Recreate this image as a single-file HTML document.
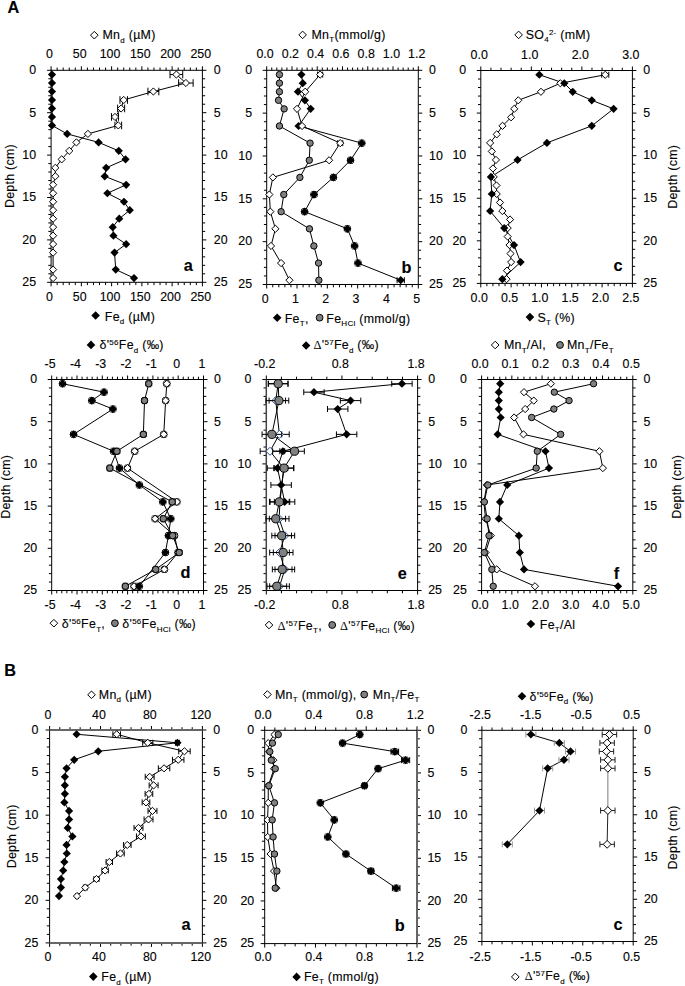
<!DOCTYPE html>
<html><head><meta charset="utf-8"><style>
html,body{margin:0;padding:0;background:#fff;}
svg{display:block;}
text{font-family:"Liberation Sans", sans-serif;fill:#000;stroke:#000;stroke-width:0.12px;}
</style></head><body>
<svg width="685" height="986" viewBox="0 0 685 986">
<rect width="685" height="986" fill="#fff"/>
<text x="7.6" y="12.6" font-size="16.3" font-weight="bold">A</text>
<text x="4.2" y="676.4" font-size="16.3" font-weight="bold">B</text>
<path d="M47.10 70.30H51.10M202.40 70.30H206.40M48.30 78.78H51.10M202.40 78.78H205.20M48.30 87.26H51.10M202.40 87.26H205.20M48.30 95.74H51.10M202.40 95.74H205.20M48.30 104.22H51.10M202.40 104.22H205.20M47.10 112.70H51.10M202.40 112.70H206.40M48.30 121.18H51.10M202.40 121.18H205.20M48.30 129.66H51.10M202.40 129.66H205.20M48.30 138.14H51.10M202.40 138.14H205.20M48.30 146.62H51.10M202.40 146.62H205.20M47.10 155.10H51.10M202.40 155.10H206.40M48.30 163.58H51.10M202.40 163.58H205.20M48.30 172.06H51.10M202.40 172.06H205.20M48.30 180.54H51.10M202.40 180.54H205.20M48.30 189.02H51.10M202.40 189.02H205.20M47.10 197.50H51.10M202.40 197.50H206.40M48.30 205.98H51.10M202.40 205.98H205.20M48.30 214.46H51.10M202.40 214.46H205.20M48.30 222.94H51.10M202.40 222.94H205.20M48.30 231.42H51.10M202.40 231.42H205.20M47.10 239.90H51.10M202.40 239.90H206.40M48.30 248.38H51.10M202.40 248.38H205.20M48.30 256.86H51.10M202.40 256.86H205.20M48.30 265.34H51.10M202.40 265.34H205.20M48.30 273.82H51.10M202.40 273.82H205.20M47.10 282.30H51.10M202.40 282.30H206.40M51.10 66.30V70.30M57.15 67.50V70.30M63.20 67.50V70.30M69.26 67.50V70.30M75.31 67.50V70.30M81.36 66.30V70.30M87.41 67.50V70.30M93.46 67.50V70.30M99.52 67.50V70.30M105.57 67.50V70.30M111.62 66.30V70.30M117.67 67.50V70.30M123.72 67.50V70.30M129.78 67.50V70.30M135.83 67.50V70.30M141.88 66.30V70.30M147.93 67.50V70.30M153.98 67.50V70.30M160.04 67.50V70.30M166.09 67.50V70.30M172.14 66.30V70.30M178.19 67.50V70.30M184.24 67.50V70.30M190.30 67.50V70.30M196.35 67.50V70.30M202.40 66.30V70.30M51.10 282.30V286.30M57.15 282.30V285.10M63.20 282.30V285.10M69.26 282.30V285.10M75.31 282.30V285.10M81.36 282.30V286.30M87.41 282.30V285.10M93.46 282.30V285.10M99.52 282.30V285.10M105.57 282.30V285.10M111.62 282.30V286.30M117.67 282.30V285.10M123.72 282.30V285.10M129.78 282.30V285.10M135.83 282.30V285.10M141.88 282.30V286.30M147.93 282.30V285.10M153.98 282.30V285.10M160.04 282.30V285.10M166.09 282.30V285.10M172.14 282.30V286.30M178.19 282.30V285.10M184.24 282.30V285.10M190.30 282.30V285.10M196.35 282.30V285.10M202.40 282.30V286.30" stroke="#000" stroke-width="1" fill="none"/>
<line x1="51.10" y1="69.80" x2="51.10" y2="282.80" stroke="#000" stroke-width="1.0"/>
<line x1="202.40" y1="69.80" x2="202.40" y2="282.80" stroke="#000" stroke-width="1.0"/>
<line x1="51.10" y1="70.30" x2="202.40" y2="70.30" stroke="#000" stroke-width="1.0"/>
<line x1="51.10" y1="282.30" x2="202.40" y2="282.30" stroke="#000" stroke-width="1.0"/>
<text x="49.50" y="58.40" text-anchor="middle" font-size="12.4" font-weight="normal">0</text>
<text x="79.76" y="58.40" text-anchor="middle" font-size="12.4" font-weight="normal">50</text>
<text x="110.02" y="58.40" text-anchor="middle" font-size="12.4" font-weight="normal">100</text>
<text x="140.28" y="58.40" text-anchor="middle" font-size="12.4" font-weight="normal">150</text>
<text x="170.54" y="58.40" text-anchor="middle" font-size="12.4" font-weight="normal">200</text>
<text x="200.80" y="58.40" text-anchor="middle" font-size="12.4" font-weight="normal">250</text>
<text x="49.50" y="301.30" text-anchor="middle" font-size="12.4" font-weight="normal">0</text>
<text x="79.76" y="301.30" text-anchor="middle" font-size="12.4" font-weight="normal">50</text>
<text x="110.02" y="301.30" text-anchor="middle" font-size="12.4" font-weight="normal">100</text>
<text x="140.28" y="301.30" text-anchor="middle" font-size="12.4" font-weight="normal">150</text>
<text x="170.54" y="301.30" text-anchor="middle" font-size="12.4" font-weight="normal">200</text>
<text x="200.80" y="301.30" text-anchor="middle" font-size="12.4" font-weight="normal">250</text>
<text x="36.10" y="74.10" text-anchor="end" font-size="12.4" font-weight="normal">0</text>
<text x="213.80" y="74.10" text-anchor="start" font-size="12.4" font-weight="normal">0</text>
<text x="36.10" y="116.50" text-anchor="end" font-size="12.4" font-weight="normal">5</text>
<text x="213.80" y="116.50" text-anchor="start" font-size="12.4" font-weight="normal">5</text>
<text x="36.10" y="158.90" text-anchor="end" font-size="12.4" font-weight="normal">10</text>
<text x="213.80" y="158.90" text-anchor="start" font-size="12.4" font-weight="normal">10</text>
<text x="36.10" y="201.30" text-anchor="end" font-size="12.4" font-weight="normal">15</text>
<text x="213.80" y="201.30" text-anchor="start" font-size="12.4" font-weight="normal">15</text>
<text x="36.10" y="243.70" text-anchor="end" font-size="12.4" font-weight="normal">20</text>
<text x="213.80" y="243.70" text-anchor="start" font-size="12.4" font-weight="normal">20</text>
<text x="36.10" y="286.10" text-anchor="end" font-size="12.4" font-weight="normal">25</text>
<text x="213.80" y="286.10" text-anchor="start" font-size="12.4" font-weight="normal">25</text>
<polyline fill="none" stroke="#000" stroke-width="1.0" points="176.38,74.54 185.88,83.02 153.38,91.50 123.72,99.98 121.12,108.46 115.01,116.94 118.28,125.42 87.90,133.90 76.40,142.38 69.26,150.86 61.69,159.34 55.34,167.82 55.34,176.30 53.10,184.78 53.10,193.26 53.10,201.74 53.10,210.22 53.10,218.70 53.10,227.18 53.10,235.66 53.10,244.14 53.10,252.62 53.10,269.58 53.10,278.06"/>
<polyline fill="none" stroke="#000" stroke-width="1.0" points="52.01,74.54 52.01,83.02 52.01,91.50 52.01,99.98 52.01,108.46 52.01,116.94 52.01,125.42 67.14,133.90 98.61,142.38 118.76,150.86 125.54,159.34 106.17,167.82 104.72,176.30 126.14,184.78 107.38,193.26 123.97,201.74 129.78,210.22 119.25,218.70 112.71,227.18 113.44,235.66 126.14,244.14 114.52,252.62 115.74,269.58 134.01,278.06"/>
<line x1="170.02" y1="74.54" x2="182.73" y2="74.54" stroke="#000" stroke-width="1.0"/>
<line x1="170.02" y1="70.74" x2="170.02" y2="78.34" stroke="#000" stroke-width="1.0"/>
<line x1="182.73" y1="70.74" x2="182.73" y2="78.34" stroke="#000" stroke-width="1.0"/>
<path d="M176.38 70.94L179.98 74.54L176.38 78.14L172.78 74.54Z" fill="#fff" stroke="#000" stroke-width="1"/>
<line x1="178.62" y1="83.02" x2="193.14" y2="83.02" stroke="#000" stroke-width="1.0"/>
<line x1="178.62" y1="79.22" x2="178.62" y2="86.82" stroke="#000" stroke-width="1.0"/>
<line x1="193.14" y1="79.22" x2="193.14" y2="86.82" stroke="#000" stroke-width="1.0"/>
<path d="M185.88 79.42L189.48 83.02L185.88 86.62L182.28 83.02Z" fill="#fff" stroke="#000" stroke-width="1"/>
<line x1="147.93" y1="91.50" x2="158.83" y2="91.50" stroke="#000" stroke-width="1.0"/>
<line x1="147.93" y1="87.70" x2="147.93" y2="95.30" stroke="#000" stroke-width="1.0"/>
<line x1="158.83" y1="87.70" x2="158.83" y2="95.30" stroke="#000" stroke-width="1.0"/>
<path d="M153.38 87.90L156.98 91.50L153.38 95.10L149.78 91.50Z" fill="#fff" stroke="#000" stroke-width="1"/>
<line x1="119.97" y1="99.98" x2="127.48" y2="99.98" stroke="#000" stroke-width="1.0"/>
<line x1="119.97" y1="96.18" x2="119.97" y2="103.78" stroke="#000" stroke-width="1.0"/>
<line x1="127.48" y1="96.18" x2="127.48" y2="103.78" stroke="#000" stroke-width="1.0"/>
<path d="M123.72 96.38L127.32 99.98L123.72 103.58L120.12 99.98Z" fill="#fff" stroke="#000" stroke-width="1"/>
<line x1="117.61" y1="108.46" x2="124.63" y2="108.46" stroke="#000" stroke-width="1.0"/>
<line x1="117.61" y1="104.66" x2="117.61" y2="112.26" stroke="#000" stroke-width="1.0"/>
<line x1="124.63" y1="104.66" x2="124.63" y2="112.26" stroke="#000" stroke-width="1.0"/>
<path d="M121.12 104.86L124.72 108.46L121.12 112.06L117.52 108.46Z" fill="#fff" stroke="#000" stroke-width="1"/>
<line x1="111.50" y1="116.94" x2="118.52" y2="116.94" stroke="#000" stroke-width="1.0"/>
<line x1="111.50" y1="113.14" x2="111.50" y2="120.74" stroke="#000" stroke-width="1.0"/>
<line x1="118.52" y1="113.14" x2="118.52" y2="120.74" stroke="#000" stroke-width="1.0"/>
<path d="M115.01 113.34L118.61 116.94L115.01 120.54L111.41 116.94Z" fill="#fff" stroke="#000" stroke-width="1"/>
<line x1="114.95" y1="125.42" x2="121.61" y2="125.42" stroke="#000" stroke-width="1.0"/>
<line x1="114.95" y1="121.62" x2="114.95" y2="129.22" stroke="#000" stroke-width="1.0"/>
<line x1="121.61" y1="121.62" x2="121.61" y2="129.22" stroke="#000" stroke-width="1.0"/>
<path d="M118.28 121.82L121.88 125.42L118.28 129.02L114.68 125.42Z" fill="#fff" stroke="#000" stroke-width="1"/>
<path d="M87.90 130.30L91.50 133.90L87.90 137.50L84.30 133.90Z" fill="#fff" stroke="#000" stroke-width="1"/>
<path d="M76.40 138.78L80.00 142.38L76.40 145.98L72.80 142.38Z" fill="#fff" stroke="#000" stroke-width="1"/>
<path d="M69.26 147.26L72.86 150.86L69.26 154.46L65.66 150.86Z" fill="#fff" stroke="#000" stroke-width="1"/>
<path d="M61.69 155.74L65.29 159.34L61.69 162.94L58.09 159.34Z" fill="#fff" stroke="#000" stroke-width="1"/>
<path d="M55.34 164.22L58.94 167.82L55.34 171.42L51.74 167.82Z" fill="#fff" stroke="#000" stroke-width="1"/>
<path d="M55.34 172.70L58.94 176.30L55.34 179.90L51.74 176.30Z" fill="#fff" stroke="#000" stroke-width="1"/>
<path d="M53.10 181.18L56.70 184.78L53.10 188.38L49.50 184.78Z" fill="#fff" stroke="#000" stroke-width="1"/>
<path d="M53.10 189.66L56.70 193.26L53.10 196.86L49.50 193.26Z" fill="#fff" stroke="#000" stroke-width="1"/>
<path d="M53.10 198.14L56.70 201.74L53.10 205.34L49.50 201.74Z" fill="#fff" stroke="#000" stroke-width="1"/>
<path d="M53.10 206.62L56.70 210.22L53.10 213.82L49.50 210.22Z" fill="#fff" stroke="#000" stroke-width="1"/>
<path d="M53.10 215.10L56.70 218.70L53.10 222.30L49.50 218.70Z" fill="#fff" stroke="#000" stroke-width="1"/>
<path d="M53.10 223.58L56.70 227.18L53.10 230.78L49.50 227.18Z" fill="#fff" stroke="#000" stroke-width="1"/>
<path d="M53.10 232.06L56.70 235.66L53.10 239.26L49.50 235.66Z" fill="#fff" stroke="#000" stroke-width="1"/>
<path d="M53.10 240.54L56.70 244.14L53.10 247.74L49.50 244.14Z" fill="#fff" stroke="#000" stroke-width="1"/>
<path d="M53.10 249.02L56.70 252.62L53.10 256.22L49.50 252.62Z" fill="#fff" stroke="#000" stroke-width="1"/>
<path d="M53.10 265.98L56.70 269.58L53.10 273.18L49.50 269.58Z" fill="#fff" stroke="#000" stroke-width="1"/>
<path d="M53.10 274.46L56.70 278.06L53.10 281.66L49.50 278.06Z" fill="#fff" stroke="#000" stroke-width="1"/>
<path d="M52.01 70.44L56.11 74.54L52.01 78.64L47.91 74.54Z" fill="#000"/>
<path d="M52.01 78.92L56.11 83.02L52.01 87.12L47.91 83.02Z" fill="#000"/>
<path d="M52.01 87.40L56.11 91.50L52.01 95.60L47.91 91.50Z" fill="#000"/>
<path d="M52.01 95.88L56.11 99.98L52.01 104.08L47.91 99.98Z" fill="#000"/>
<path d="M52.01 104.36L56.11 108.46L52.01 112.56L47.91 108.46Z" fill="#000"/>
<path d="M52.01 112.84L56.11 116.94L52.01 121.04L47.91 116.94Z" fill="#000"/>
<path d="M52.01 121.32L56.11 125.42L52.01 129.52L47.91 125.42Z" fill="#000"/>
<path d="M67.14 129.80L71.24 133.90L67.14 138.00L63.04 133.90Z" fill="#000"/>
<path d="M98.61 138.28L102.71 142.38L98.61 146.48L94.51 142.38Z" fill="#000"/>
<path d="M118.76 146.76L122.86 150.86L118.76 154.96L114.66 150.86Z" fill="#000"/>
<path d="M125.54 155.24L129.64 159.34L125.54 163.44L121.44 159.34Z" fill="#000"/>
<path d="M106.17 163.72L110.27 167.82L106.17 171.92L102.07 167.82Z" fill="#000"/>
<path d="M104.72 172.20L108.82 176.30L104.72 180.40L100.62 176.30Z" fill="#000"/>
<path d="M126.14 180.68L130.24 184.78L126.14 188.88L122.04 184.78Z" fill="#000"/>
<path d="M107.38 189.16L111.48 193.26L107.38 197.36L103.28 193.26Z" fill="#000"/>
<path d="M123.97 197.64L128.07 201.74L123.97 205.84L119.87 201.74Z" fill="#000"/>
<path d="M129.78 206.12L133.88 210.22L129.78 214.32L125.68 210.22Z" fill="#000"/>
<path d="M119.25 214.60L123.35 218.70L119.25 222.80L115.15 218.70Z" fill="#000"/>
<path d="M112.71 223.08L116.81 227.18L112.71 231.28L108.61 227.18Z" fill="#000"/>
<path d="M113.44 231.56L117.54 235.66L113.44 239.76L109.34 235.66Z" fill="#000"/>
<path d="M126.14 240.04L130.24 244.14L126.14 248.24L122.04 244.14Z" fill="#000"/>
<path d="M114.52 248.52L118.62 252.62L114.52 256.72L110.42 252.62Z" fill="#000"/>
<path d="M115.74 265.48L119.84 269.58L115.74 273.68L111.64 269.58Z" fill="#000"/>
<path d="M134.01 273.96L138.11 278.06L134.01 282.16L129.91 278.06Z" fill="#000"/>
<path d="M94.30 31.40L98.10 35.20L94.30 39.00L90.50 35.20Z" fill="#fff" stroke="#000" stroke-width="1"/>
<text x="102.50" y="39.40" text-anchor="start" font-size="12.4" letter-spacing="0.28" xml:space="preserve"><tspan font-size="12.4">Mn</tspan><tspan font-size="8.0" dy="3.30">d</tspan><tspan font-size="12.4" dy="-3.30"> (µM)</tspan></text>
<path d="M95.60 311.20L99.90 315.50L95.60 319.80L91.30 315.50Z" fill="#000"/>
<text x="104.80" y="320.50" text-anchor="start" font-size="12.4" letter-spacing="0.28" xml:space="preserve"><tspan font-size="12.4">Fe</tspan><tspan font-size="8.0" dy="3.30">d</tspan><tspan font-size="12.4" dy="-3.30"> (µM)</tspan></text>
<text transform="translate(13.70,176.05) rotate(-90)" text-anchor="middle" font-size="12.4" letter-spacing="0.28">Depth (cm)</text>
<text x="192.75" y="271.20" text-anchor="end" font-size="16.3" font-weight="bold">a</text>
<path d="M262.70 70.30H266.70M418.30 70.30H422.30M263.90 78.87H266.70M418.30 78.87H421.10M263.90 87.44H266.70M418.30 87.44H421.10M263.90 96.00H266.70M418.30 96.00H421.10M263.90 104.57H266.70M418.30 104.57H421.10M262.70 113.14H266.70M418.30 113.14H422.30M263.90 121.71H266.70M418.30 121.71H421.10M263.90 130.28H266.70M418.30 130.28H421.10M263.90 138.84H266.70M418.30 138.84H421.10M263.90 147.41H266.70M418.30 147.41H421.10M262.70 155.98H266.70M418.30 155.98H422.30M263.90 164.55H266.70M418.30 164.55H421.10M263.90 173.12H266.70M418.30 173.12H421.10M263.90 181.68H266.70M418.30 181.68H421.10M263.90 190.25H266.70M418.30 190.25H421.10M262.70 198.82H266.70M418.30 198.82H422.30M263.90 207.39H266.70M418.30 207.39H421.10M263.90 215.96H266.70M418.30 215.96H421.10M263.90 224.52H266.70M418.30 224.52H421.10M263.90 233.09H266.70M418.30 233.09H421.10M262.70 241.66H266.70M418.30 241.66H422.30M263.90 250.23H266.70M418.30 250.23H421.10M263.90 258.80H266.70M418.30 258.80H421.10M263.90 267.36H266.70M418.30 267.36H421.10M263.90 275.93H266.70M418.30 275.93H421.10M262.70 284.50H266.70M418.30 284.50H422.30M266.70 66.30V70.30M271.75 67.50V70.30M276.81 67.50V70.30M281.86 67.50V70.30M286.91 67.50V70.30M291.97 66.30V70.30M297.02 67.50V70.30M302.07 67.50V70.30M307.13 67.50V70.30M312.18 67.50V70.30M317.23 66.30V70.30M322.29 67.50V70.30M327.34 67.50V70.30M332.39 67.50V70.30M337.45 67.50V70.30M342.50 66.30V70.30M347.55 67.50V70.30M352.61 67.50V70.30M357.66 67.50V70.30M362.71 67.50V70.30M367.77 66.30V70.30M372.82 67.50V70.30M377.87 67.50V70.30M382.93 67.50V70.30M387.98 67.50V70.30M393.03 66.30V70.30M398.09 67.50V70.30M403.14 67.50V70.30M408.19 67.50V70.30M413.25 67.50V70.30M418.30 66.30V70.30M266.70 284.50V288.50M272.76 284.50V287.30M278.83 284.50V287.30M284.89 284.50V287.30M290.96 284.50V287.30M297.02 284.50V288.50M303.08 284.50V287.30M309.15 284.50V287.30M315.21 284.50V287.30M321.28 284.50V287.30M327.34 284.50V288.50M333.40 284.50V287.30M339.47 284.50V287.30M345.53 284.50V287.30M351.60 284.50V287.30M357.66 284.50V288.50M363.72 284.50V287.30M369.79 284.50V287.30M375.85 284.50V287.30M381.92 284.50V287.30M387.98 284.50V288.50M394.04 284.50V287.30M400.11 284.50V287.30M406.17 284.50V287.30M412.24 284.50V287.30M418.30 284.50V288.50" stroke="#000" stroke-width="1" fill="none"/>
<line x1="266.70" y1="69.80" x2="266.70" y2="285.00" stroke="#000" stroke-width="1.0"/>
<line x1="418.30" y1="69.80" x2="418.30" y2="285.00" stroke="#000" stroke-width="1.0"/>
<line x1="266.70" y1="70.30" x2="418.30" y2="70.30" stroke="#000" stroke-width="1.0"/>
<line x1="266.70" y1="284.50" x2="418.30" y2="284.50" stroke="#000" stroke-width="1.0"/>
<text x="265.10" y="58.40" text-anchor="middle" font-size="12.4" font-weight="normal">0.0</text>
<text x="290.37" y="58.40" text-anchor="middle" font-size="12.4" font-weight="normal">0.2</text>
<text x="315.63" y="58.40" text-anchor="middle" font-size="12.4" font-weight="normal">0.4</text>
<text x="340.90" y="58.40" text-anchor="middle" font-size="12.4" font-weight="normal">0.6</text>
<text x="366.17" y="58.40" text-anchor="middle" font-size="12.4" font-weight="normal">0.8</text>
<text x="391.43" y="58.40" text-anchor="middle" font-size="12.4" font-weight="normal">1.0</text>
<text x="416.70" y="58.40" text-anchor="middle" font-size="12.4" font-weight="normal">1.2</text>
<text x="265.10" y="303.30" text-anchor="middle" font-size="12.4" font-weight="normal">0</text>
<text x="295.42" y="303.30" text-anchor="middle" font-size="12.4" font-weight="normal">1</text>
<text x="325.74" y="303.30" text-anchor="middle" font-size="12.4" font-weight="normal">2</text>
<text x="356.06" y="303.30" text-anchor="middle" font-size="12.4" font-weight="normal">3</text>
<text x="386.38" y="303.30" text-anchor="middle" font-size="12.4" font-weight="normal">4</text>
<text x="416.70" y="303.30" text-anchor="middle" font-size="12.4" font-weight="normal">5</text>
<text x="252.10" y="74.10" text-anchor="end" font-size="12.4" font-weight="normal">0</text>
<text x="429.10" y="74.10" text-anchor="start" font-size="12.4" font-weight="normal">0</text>
<text x="252.10" y="116.94" text-anchor="end" font-size="12.4" font-weight="normal">5</text>
<text x="429.10" y="116.94" text-anchor="start" font-size="12.4" font-weight="normal">5</text>
<text x="252.10" y="159.78" text-anchor="end" font-size="12.4" font-weight="normal">10</text>
<text x="429.10" y="159.78" text-anchor="start" font-size="12.4" font-weight="normal">10</text>
<text x="252.10" y="202.62" text-anchor="end" font-size="12.4" font-weight="normal">15</text>
<text x="429.10" y="202.62" text-anchor="start" font-size="12.4" font-weight="normal">15</text>
<text x="252.10" y="245.46" text-anchor="end" font-size="12.4" font-weight="normal">20</text>
<text x="429.10" y="245.46" text-anchor="start" font-size="12.4" font-weight="normal">20</text>
<text x="252.10" y="288.30" text-anchor="end" font-size="12.4" font-weight="normal">25</text>
<text x="429.10" y="288.30" text-anchor="start" font-size="12.4" font-weight="normal">25</text>
<polyline fill="none" stroke="#000" stroke-width="1.0" points="279.43,74.58 279.43,83.15 279.43,91.72 278.52,100.29 284.13,108.86 279.43,125.99 310.06,143.13 309.30,160.26 299.90,177.40 283.77,194.54 281.10,211.67 309.45,228.81 313.88,245.94 318.55,263.08 318.85,280.22"/>
<polyline fill="none" stroke="#000" stroke-width="1.0" points="301.39,74.58 302.78,83.15 297.93,91.72 304.90,100.29 310.66,108.86 298.54,125.99 361.75,143.13 350.53,160.26 333.40,177.40 314.00,194.54 304.60,211.67 347.35,228.81 354.63,245.94 357.96,263.08 400.71,280.22"/>
<polyline fill="none" stroke="#000" stroke-width="1.0" points="320.14,74.58 305.23,91.72 297.02,108.86 302.07,125.99 340.23,143.13 329.11,160.26 272.89,177.40 269.35,194.54 270.36,211.67 275.42,228.81 271.00,245.94 281.10,263.08 289.44,280.22"/>
<circle cx="279.43" cy="74.58" r="3.20" fill="#808080" stroke="#000" stroke-width="1"/>
<circle cx="279.43" cy="83.15" r="3.20" fill="#808080" stroke="#000" stroke-width="1"/>
<circle cx="279.43" cy="91.72" r="3.20" fill="#808080" stroke="#000" stroke-width="1"/>
<circle cx="278.52" cy="100.29" r="3.20" fill="#808080" stroke="#000" stroke-width="1"/>
<circle cx="284.13" cy="108.86" r="3.20" fill="#808080" stroke="#000" stroke-width="1"/>
<circle cx="279.43" cy="125.99" r="3.20" fill="#808080" stroke="#000" stroke-width="1"/>
<circle cx="310.06" cy="143.13" r="3.20" fill="#808080" stroke="#000" stroke-width="1"/>
<circle cx="309.30" cy="160.26" r="3.20" fill="#808080" stroke="#000" stroke-width="1"/>
<circle cx="299.90" cy="177.40" r="3.20" fill="#808080" stroke="#000" stroke-width="1"/>
<circle cx="283.77" cy="194.54" r="3.20" fill="#808080" stroke="#000" stroke-width="1"/>
<circle cx="281.10" cy="211.67" r="3.20" fill="#808080" stroke="#000" stroke-width="1"/>
<circle cx="309.45" cy="228.81" r="3.20" fill="#808080" stroke="#000" stroke-width="1"/>
<circle cx="313.88" cy="245.94" r="3.20" fill="#808080" stroke="#000" stroke-width="1"/>
<circle cx="318.55" cy="263.08" r="3.20" fill="#808080" stroke="#000" stroke-width="1"/>
<circle cx="318.85" cy="280.22" r="3.20" fill="#808080" stroke="#000" stroke-width="1"/>
<path d="M301.39 70.48L305.49 74.58L301.39 78.68L297.29 74.58Z" fill="#000"/>
<path d="M302.78 79.05L306.88 83.15L302.78 87.25L298.68 83.15Z" fill="#000"/>
<path d="M297.93 87.62L302.03 91.72L297.93 95.82L293.83 91.72Z" fill="#000"/>
<path d="M304.90 96.19L309.00 100.29L304.90 104.39L300.80 100.29Z" fill="#000"/>
<path d="M310.66 104.76L314.76 108.86L310.66 112.96L306.56 108.86Z" fill="#000"/>
<path d="M298.54 121.89L302.64 125.99L298.54 130.09L294.44 125.99Z" fill="#000"/>
<line x1="358.75" y1="143.13" x2="364.75" y2="143.13" stroke="#000" stroke-width="0.9"/>
<line x1="358.75" y1="140.63" x2="358.75" y2="145.63" stroke="#000" stroke-width="0.9"/>
<line x1="364.75" y1="140.63" x2="364.75" y2="145.63" stroke="#000" stroke-width="0.9"/>
<line x1="361.75" y1="140.13" x2="361.75" y2="146.13" stroke="#000" stroke-width="0.9"/>
<line x1="359.25" y1="140.13" x2="364.25" y2="140.13" stroke="#000" stroke-width="0.9"/>
<line x1="359.25" y1="146.13" x2="364.25" y2="146.13" stroke="#000" stroke-width="0.9"/>
<path d="M361.75 139.03L365.85 143.13L361.75 147.23L357.65 143.13Z" fill="#000"/>
<line x1="347.53" y1="160.26" x2="353.53" y2="160.26" stroke="#000" stroke-width="0.9"/>
<line x1="347.53" y1="157.76" x2="347.53" y2="162.76" stroke="#000" stroke-width="0.9"/>
<line x1="353.53" y1="157.76" x2="353.53" y2="162.76" stroke="#000" stroke-width="0.9"/>
<line x1="350.53" y1="157.26" x2="350.53" y2="163.26" stroke="#000" stroke-width="0.9"/>
<line x1="348.03" y1="157.26" x2="353.03" y2="157.26" stroke="#000" stroke-width="0.9"/>
<line x1="348.03" y1="163.26" x2="353.03" y2="163.26" stroke="#000" stroke-width="0.9"/>
<path d="M350.53 156.16L354.63 160.26L350.53 164.36L346.43 160.26Z" fill="#000"/>
<line x1="330.40" y1="177.40" x2="336.40" y2="177.40" stroke="#000" stroke-width="0.9"/>
<line x1="330.40" y1="174.90" x2="330.40" y2="179.90" stroke="#000" stroke-width="0.9"/>
<line x1="336.40" y1="174.90" x2="336.40" y2="179.90" stroke="#000" stroke-width="0.9"/>
<line x1="333.40" y1="174.40" x2="333.40" y2="180.40" stroke="#000" stroke-width="0.9"/>
<line x1="330.90" y1="174.40" x2="335.90" y2="174.40" stroke="#000" stroke-width="0.9"/>
<line x1="330.90" y1="180.40" x2="335.90" y2="180.40" stroke="#000" stroke-width="0.9"/>
<path d="M333.40 173.30L337.50 177.40L333.40 181.50L329.30 177.40Z" fill="#000"/>
<line x1="311.00" y1="194.54" x2="317.00" y2="194.54" stroke="#000" stroke-width="0.9"/>
<line x1="311.00" y1="192.04" x2="311.00" y2="197.04" stroke="#000" stroke-width="0.9"/>
<line x1="317.00" y1="192.04" x2="317.00" y2="197.04" stroke="#000" stroke-width="0.9"/>
<line x1="314.00" y1="191.54" x2="314.00" y2="197.54" stroke="#000" stroke-width="0.9"/>
<line x1="311.50" y1="191.54" x2="316.50" y2="191.54" stroke="#000" stroke-width="0.9"/>
<line x1="311.50" y1="197.54" x2="316.50" y2="197.54" stroke="#000" stroke-width="0.9"/>
<path d="M314.00 190.44L318.10 194.54L314.00 198.64L309.90 194.54Z" fill="#000"/>
<line x1="301.60" y1="211.67" x2="307.60" y2="211.67" stroke="#000" stroke-width="0.9"/>
<line x1="301.60" y1="209.17" x2="301.60" y2="214.17" stroke="#000" stroke-width="0.9"/>
<line x1="307.60" y1="209.17" x2="307.60" y2="214.17" stroke="#000" stroke-width="0.9"/>
<line x1="304.60" y1="208.67" x2="304.60" y2="214.67" stroke="#000" stroke-width="0.9"/>
<line x1="302.10" y1="208.67" x2="307.10" y2="208.67" stroke="#000" stroke-width="0.9"/>
<line x1="302.10" y1="214.67" x2="307.10" y2="214.67" stroke="#000" stroke-width="0.9"/>
<path d="M304.60 207.57L308.70 211.67L304.60 215.77L300.50 211.67Z" fill="#000"/>
<line x1="344.35" y1="228.81" x2="350.35" y2="228.81" stroke="#000" stroke-width="0.9"/>
<line x1="344.35" y1="226.31" x2="344.35" y2="231.31" stroke="#000" stroke-width="0.9"/>
<line x1="350.35" y1="226.31" x2="350.35" y2="231.31" stroke="#000" stroke-width="0.9"/>
<line x1="347.35" y1="225.81" x2="347.35" y2="231.81" stroke="#000" stroke-width="0.9"/>
<line x1="344.85" y1="225.81" x2="349.85" y2="225.81" stroke="#000" stroke-width="0.9"/>
<line x1="344.85" y1="231.81" x2="349.85" y2="231.81" stroke="#000" stroke-width="0.9"/>
<path d="M347.35 224.71L351.45 228.81L347.35 232.91L343.25 228.81Z" fill="#000"/>
<line x1="351.63" y1="245.94" x2="357.63" y2="245.94" stroke="#000" stroke-width="0.9"/>
<line x1="351.63" y1="243.44" x2="351.63" y2="248.44" stroke="#000" stroke-width="0.9"/>
<line x1="357.63" y1="243.44" x2="357.63" y2="248.44" stroke="#000" stroke-width="0.9"/>
<line x1="354.63" y1="242.94" x2="354.63" y2="248.94" stroke="#000" stroke-width="0.9"/>
<line x1="352.13" y1="242.94" x2="357.13" y2="242.94" stroke="#000" stroke-width="0.9"/>
<line x1="352.13" y1="248.94" x2="357.13" y2="248.94" stroke="#000" stroke-width="0.9"/>
<path d="M354.63 241.84L358.73 245.94L354.63 250.04L350.53 245.94Z" fill="#000"/>
<line x1="354.96" y1="263.08" x2="360.96" y2="263.08" stroke="#000" stroke-width="0.9"/>
<line x1="354.96" y1="260.58" x2="354.96" y2="265.58" stroke="#000" stroke-width="0.9"/>
<line x1="360.96" y1="260.58" x2="360.96" y2="265.58" stroke="#000" stroke-width="0.9"/>
<line x1="357.96" y1="260.08" x2="357.96" y2="266.08" stroke="#000" stroke-width="0.9"/>
<line x1="355.46" y1="260.08" x2="360.46" y2="260.08" stroke="#000" stroke-width="0.9"/>
<line x1="355.46" y1="266.08" x2="360.46" y2="266.08" stroke="#000" stroke-width="0.9"/>
<path d="M357.96 258.98L362.06 263.08L357.96 267.18L353.86 263.08Z" fill="#000"/>
<line x1="397.08" y1="280.22" x2="404.35" y2="280.22" stroke="#000" stroke-width="1.0"/>
<line x1="397.08" y1="277.22" x2="397.08" y2="283.22" stroke="#000" stroke-width="1.0"/>
<line x1="404.35" y1="277.22" x2="404.35" y2="283.22" stroke="#000" stroke-width="1.0"/>
<path d="M400.71 276.12L404.81 280.22L400.71 284.32L396.61 280.22Z" fill="#000"/>
<line x1="317.61" y1="74.58" x2="322.67" y2="74.58" stroke="#000" stroke-width="1.0"/>
<line x1="317.61" y1="71.58" x2="317.61" y2="77.58" stroke="#000" stroke-width="1.0"/>
<line x1="322.67" y1="71.58" x2="322.67" y2="77.58" stroke="#000" stroke-width="1.0"/>
<path d="M320.14 70.98L323.74 74.58L320.14 78.18L316.54 74.58Z" fill="#fff" stroke="#000" stroke-width="1"/>
<path d="M305.23 88.12L308.83 91.72L305.23 95.32L301.63 91.72Z" fill="#fff" stroke="#000" stroke-width="1"/>
<path d="M297.02 105.26L300.62 108.86L297.02 112.46L293.42 108.86Z" fill="#fff" stroke="#000" stroke-width="1"/>
<path d="M302.07 122.39L305.67 125.99L302.07 129.59L298.47 125.99Z" fill="#fff" stroke="#000" stroke-width="1"/>
<line x1="337.70" y1="143.13" x2="342.75" y2="143.13" stroke="#000" stroke-width="1.0"/>
<line x1="337.70" y1="140.13" x2="337.70" y2="146.13" stroke="#000" stroke-width="1.0"/>
<line x1="342.75" y1="140.13" x2="342.75" y2="146.13" stroke="#000" stroke-width="1.0"/>
<path d="M340.23 139.53L343.83 143.13L340.23 146.73L336.63 143.13Z" fill="#fff" stroke="#000" stroke-width="1"/>
<path d="M329.11 156.66L332.71 160.26L329.11 163.86L325.51 160.26Z" fill="#fff" stroke="#000" stroke-width="1"/>
<path d="M272.89 173.80L276.49 177.40L272.89 181.00L269.29 177.40Z" fill="#fff" stroke="#000" stroke-width="1"/>
<path d="M269.35 190.94L272.95 194.54L269.35 198.14L265.75 194.54Z" fill="#fff" stroke="#000" stroke-width="1"/>
<path d="M270.36 208.07L273.96 211.67L270.36 215.27L266.76 211.67Z" fill="#fff" stroke="#000" stroke-width="1"/>
<path d="M275.42 225.21L279.02 228.81L275.42 232.41L271.82 228.81Z" fill="#fff" stroke="#000" stroke-width="1"/>
<path d="M271.00 242.34L274.60 245.94L271.00 249.54L267.40 245.94Z" fill="#fff" stroke="#000" stroke-width="1"/>
<path d="M281.10 259.48L284.70 263.08L281.10 266.68L277.50 263.08Z" fill="#fff" stroke="#000" stroke-width="1"/>
<path d="M289.44 276.62L293.04 280.22L289.44 283.82L285.84 280.22Z" fill="#fff" stroke="#000" stroke-width="1"/>
<path d="M302.60 31.10L306.40 34.90L302.60 38.70L298.80 34.90Z" fill="#fff" stroke="#000" stroke-width="1"/>
<text x="311.50" y="39.00" text-anchor="start" font-size="12.4" letter-spacing="0.28" xml:space="preserve"><tspan font-size="12.4">Mn</tspan><tspan font-size="8.0" dy="3.30">T</tspan><tspan font-size="12.4" dy="-3.30">(mmol/g)</tspan></text>
<path d="M277.20 313.40L281.50 317.70L277.20 322.00L272.90 317.70Z" fill="#000"/>
<text x="284.70" y="322.80" text-anchor="start" font-size="12.4" letter-spacing="0.28" xml:space="preserve"><tspan font-size="12.4">Fe</tspan><tspan font-size="8.0" dy="3.30">T</tspan><tspan font-size="12.4" dy="-3.30">,  </tspan></text>
<circle cx="319.60" cy="317.70" r="3.40" fill="#808080" stroke="#000" stroke-width="1"/>
<text x="326.30" y="322.80" text-anchor="start" font-size="12.4" letter-spacing="0.28" xml:space="preserve"><tspan font-size="12.4">Fe</tspan><tspan font-size="8.0" dy="3.30">HCl</tspan><tspan font-size="12.4" dy="-3.30"> (mmol/g)</tspan></text>
<text x="411.35" y="272.70" text-anchor="end" font-size="16.3" font-weight="bold">b</text>
<path d="M476.80 70.50H480.80M632.40 70.50H636.40M478.00 79.02H480.80M632.40 79.02H635.20M478.00 87.53H480.80M632.40 87.53H635.20M478.00 96.05H480.80M632.40 96.05H635.20M478.00 104.56H480.80M632.40 104.56H635.20M476.80 113.08H480.80M632.40 113.08H636.40M478.00 121.60H480.80M632.40 121.60H635.20M478.00 130.11H480.80M632.40 130.11H635.20M478.00 138.63H480.80M632.40 138.63H635.20M478.00 147.14H480.80M632.40 147.14H635.20M476.80 155.66H480.80M632.40 155.66H636.40M478.00 164.18H480.80M632.40 164.18H635.20M478.00 172.69H480.80M632.40 172.69H635.20M478.00 181.21H480.80M632.40 181.21H635.20M478.00 189.72H480.80M632.40 189.72H635.20M476.80 198.24H480.80M632.40 198.24H636.40M478.00 206.76H480.80M632.40 206.76H635.20M478.00 215.27H480.80M632.40 215.27H635.20M478.00 223.79H480.80M632.40 223.79H635.20M478.00 232.30H480.80M632.40 232.30H635.20M476.80 240.82H480.80M632.40 240.82H636.40M478.00 249.34H480.80M632.40 249.34H635.20M478.00 257.85H480.80M632.40 257.85H635.20M478.00 266.37H480.80M632.40 266.37H635.20M478.00 274.88H480.80M632.40 274.88H635.20M476.80 283.40H480.80M632.40 283.40H636.40M480.80 66.50V70.50M490.91 67.70V70.50M501.01 67.70V70.50M511.12 67.70V70.50M521.23 67.70V70.50M531.33 66.50V70.50M541.44 67.70V70.50M551.55 67.70V70.50M561.65 67.70V70.50M571.76 67.70V70.50M581.87 66.50V70.50M591.97 67.70V70.50M602.08 67.70V70.50M612.19 67.70V70.50M622.29 67.70V70.50M632.40 66.50V70.50M480.80 283.40V287.40M486.86 283.40V286.20M492.93 283.40V286.20M498.99 283.40V286.20M505.06 283.40V286.20M511.12 283.40V287.40M517.18 283.40V286.20M523.25 283.40V286.20M529.31 283.40V286.20M535.38 283.40V286.20M541.44 283.40V287.40M547.50 283.40V286.20M553.57 283.40V286.20M559.63 283.40V286.20M565.70 283.40V286.20M571.76 283.40V287.40M577.82 283.40V286.20M583.89 283.40V286.20M589.95 283.40V286.20M596.02 283.40V286.20M602.08 283.40V287.40M608.14 283.40V286.20M614.21 283.40V286.20M620.27 283.40V286.20M626.34 283.40V286.20M632.40 283.40V287.40" stroke="#000" stroke-width="1" fill="none"/>
<line x1="480.80" y1="70.00" x2="480.80" y2="283.90" stroke="#000" stroke-width="1.0"/>
<line x1="632.40" y1="70.00" x2="632.40" y2="283.90" stroke="#000" stroke-width="1.0"/>
<line x1="480.80" y1="70.50" x2="632.40" y2="70.50" stroke="#000" stroke-width="1.0"/>
<line x1="480.80" y1="283.40" x2="632.40" y2="283.40" stroke="#000" stroke-width="1.0"/>
<text x="479.20" y="58.60" text-anchor="middle" font-size="12.4" font-weight="normal">0.0</text>
<text x="529.73" y="58.60" text-anchor="middle" font-size="12.4" font-weight="normal">1.0</text>
<text x="580.27" y="58.60" text-anchor="middle" font-size="12.4" font-weight="normal">2.0</text>
<text x="630.80" y="58.60" text-anchor="middle" font-size="12.4" font-weight="normal">3.0</text>
<text x="479.20" y="302.40" text-anchor="middle" font-size="12.4" font-weight="normal">0.0</text>
<text x="509.52" y="302.40" text-anchor="middle" font-size="12.4" font-weight="normal">0.5</text>
<text x="539.84" y="302.40" text-anchor="middle" font-size="12.4" font-weight="normal">1.0</text>
<text x="570.16" y="302.40" text-anchor="middle" font-size="12.4" font-weight="normal">1.5</text>
<text x="600.48" y="302.40" text-anchor="middle" font-size="12.4" font-weight="normal">2.0</text>
<text x="630.80" y="302.40" text-anchor="middle" font-size="12.4" font-weight="normal">2.5</text>
<text x="466.20" y="74.30" text-anchor="end" font-size="12.4" font-weight="normal">0</text>
<text x="643.30" y="74.30" text-anchor="start" font-size="12.4" font-weight="normal">0</text>
<text x="466.20" y="116.88" text-anchor="end" font-size="12.4" font-weight="normal">5</text>
<text x="643.30" y="116.88" text-anchor="start" font-size="12.4" font-weight="normal">5</text>
<text x="466.20" y="159.46" text-anchor="end" font-size="12.4" font-weight="normal">10</text>
<text x="643.30" y="159.46" text-anchor="start" font-size="12.4" font-weight="normal">10</text>
<text x="466.20" y="202.04" text-anchor="end" font-size="12.4" font-weight="normal">15</text>
<text x="643.30" y="202.04" text-anchor="start" font-size="12.4" font-weight="normal">15</text>
<text x="466.20" y="244.62" text-anchor="end" font-size="12.4" font-weight="normal">20</text>
<text x="643.30" y="244.62" text-anchor="start" font-size="12.4" font-weight="normal">20</text>
<text x="466.20" y="287.20" text-anchor="end" font-size="12.4" font-weight="normal">25</text>
<text x="643.30" y="287.20" text-anchor="start" font-size="12.4" font-weight="normal">25</text>
<polyline fill="none" stroke="#000" stroke-width="1.0" points="605.26,74.76 560.34,83.27 540.93,91.79 518.25,100.31 514.25,108.82 511.12,117.34 502.53,125.85 496.72,134.37 490.15,142.89 491.82,151.40 495.96,159.92 492.93,168.43 493.69,176.95 496.47,185.47 496.72,193.98 500.00,202.50 502.33,211.01 510.06,219.53 507.68,228.05 507.68,236.56 509.55,245.08 510.51,253.59 511.12,262.11 506.98,270.63 506.52,279.14"/>
<polyline fill="none" stroke="#000" stroke-width="1.0" points="539.32,74.76 564.30,83.27 572.73,91.79 591.77,100.31 613.60,108.82 591.77,125.85 546.90,142.89 517.55,159.92 490.87,176.95 491.78,193.98 490.14,211.01 504.21,228.05 514.03,245.08 520.58,262.11 502.33,279.14"/>
<line x1="601.73" y1="74.76" x2="608.80" y2="74.76" stroke="#000" stroke-width="1.0"/>
<line x1="601.73" y1="71.76" x2="601.73" y2="77.76" stroke="#000" stroke-width="1.0"/>
<line x1="608.80" y1="71.76" x2="608.80" y2="77.76" stroke="#000" stroke-width="1.0"/>
<path d="M605.26 71.16L608.86 74.76L605.26 78.36L601.66 74.76Z" fill="#fff" stroke="#000" stroke-width="1"/>
<path d="M560.34 79.67L563.94 83.27L560.34 86.87L556.74 83.27Z" fill="#fff" stroke="#000" stroke-width="1"/>
<path d="M540.93 88.19L544.53 91.79L540.93 95.39L537.33 91.79Z" fill="#fff" stroke="#000" stroke-width="1"/>
<path d="M518.25 96.71L521.85 100.31L518.25 103.91L514.65 100.31Z" fill="#fff" stroke="#000" stroke-width="1"/>
<path d="M514.25 105.22L517.85 108.82L514.25 112.42L510.65 108.82Z" fill="#fff" stroke="#000" stroke-width="1"/>
<path d="M511.12 113.74L514.72 117.34L511.12 120.94L507.52 117.34Z" fill="#fff" stroke="#000" stroke-width="1"/>
<path d="M502.53 122.25L506.13 125.85L502.53 129.45L498.93 125.85Z" fill="#fff" stroke="#000" stroke-width="1"/>
<path d="M496.72 130.77L500.32 134.37L496.72 137.97L493.12 134.37Z" fill="#fff" stroke="#000" stroke-width="1"/>
<path d="M490.15 139.29L493.75 142.89L490.15 146.49L486.55 142.89Z" fill="#fff" stroke="#000" stroke-width="1"/>
<path d="M491.82 147.80L495.42 151.40L491.82 155.00L488.22 151.40Z" fill="#fff" stroke="#000" stroke-width="1"/>
<path d="M495.96 156.32L499.56 159.92L495.96 163.52L492.36 159.92Z" fill="#fff" stroke="#000" stroke-width="1"/>
<path d="M492.93 164.83L496.53 168.43L492.93 172.03L489.33 168.43Z" fill="#fff" stroke="#000" stroke-width="1"/>
<path d="M493.69 173.35L497.29 176.95L493.69 180.55L490.09 176.95Z" fill="#fff" stroke="#000" stroke-width="1"/>
<path d="M496.47 181.87L500.07 185.47L496.47 189.07L492.87 185.47Z" fill="#fff" stroke="#000" stroke-width="1"/>
<path d="M496.72 190.38L500.32 193.98L496.72 197.58L493.12 193.98Z" fill="#fff" stroke="#000" stroke-width="1"/>
<path d="M500.00 198.90L503.60 202.50L500.00 206.10L496.40 202.50Z" fill="#fff" stroke="#000" stroke-width="1"/>
<path d="M502.33 207.41L505.93 211.01L502.33 214.61L498.73 211.01Z" fill="#fff" stroke="#000" stroke-width="1"/>
<path d="M510.06 215.93L513.66 219.53L510.06 223.13L506.46 219.53Z" fill="#fff" stroke="#000" stroke-width="1"/>
<path d="M507.68 224.45L511.28 228.05L507.68 231.65L504.08 228.05Z" fill="#fff" stroke="#000" stroke-width="1"/>
<path d="M507.68 232.96L511.28 236.56L507.68 240.16L504.08 236.56Z" fill="#fff" stroke="#000" stroke-width="1"/>
<path d="M509.55 241.48L513.15 245.08L509.55 248.68L505.95 245.08Z" fill="#fff" stroke="#000" stroke-width="1"/>
<path d="M510.51 249.99L514.11 253.59L510.51 257.19L506.91 253.59Z" fill="#fff" stroke="#000" stroke-width="1"/>
<path d="M511.12 258.51L514.72 262.11L511.12 265.71L507.52 262.11Z" fill="#fff" stroke="#000" stroke-width="1"/>
<path d="M506.98 267.03L510.58 270.63L506.98 274.23L503.38 270.63Z" fill="#fff" stroke="#000" stroke-width="1"/>
<path d="M506.52 275.54L510.12 279.14L506.52 282.74L502.92 279.14Z" fill="#fff" stroke="#000" stroke-width="1"/>
<path d="M539.32 70.66L543.42 74.76L539.32 78.86L535.22 74.76Z" fill="#000"/>
<path d="M564.30 79.17L568.40 83.27L564.30 87.37L560.20 83.27Z" fill="#000"/>
<path d="M572.73 87.69L576.83 91.79L572.73 95.89L568.63 91.79Z" fill="#000"/>
<path d="M591.77 96.21L595.87 100.31L591.77 104.41L587.67 100.31Z" fill="#000"/>
<path d="M613.60 104.72L617.70 108.82L613.60 112.92L609.50 108.82Z" fill="#000"/>
<path d="M591.77 121.75L595.87 125.85L591.77 129.95L587.67 125.85Z" fill="#000"/>
<path d="M546.90 138.79L551.00 142.89L546.90 146.99L542.80 142.89Z" fill="#000"/>
<path d="M517.55 155.82L521.65 159.92L517.55 164.02L513.45 159.92Z" fill="#000"/>
<path d="M490.87 172.85L494.97 176.95L490.87 181.05L486.77 176.95Z" fill="#000"/>
<path d="M491.78 189.88L495.88 193.98L491.78 198.08L487.68 193.98Z" fill="#000"/>
<path d="M490.14 206.91L494.24 211.01L490.14 215.11L486.04 211.01Z" fill="#000"/>
<path d="M504.21 223.95L508.31 228.05L504.21 232.15L500.11 228.05Z" fill="#000"/>
<path d="M514.03 240.98L518.13 245.08L514.03 249.18L509.93 245.08Z" fill="#000"/>
<path d="M520.58 258.01L524.68 262.11L520.58 266.21L516.48 262.11Z" fill="#000"/>
<path d="M502.33 275.04L506.43 279.14L502.33 283.24L498.23 279.14Z" fill="#000"/>
<path d="M518.60 31.10L522.40 34.90L518.60 38.70L514.80 34.90Z" fill="#fff" stroke="#000" stroke-width="1"/>
<text x="525.70" y="39.00" text-anchor="start" font-size="12.4" letter-spacing="0.28" xml:space="preserve"><tspan font-size="12.4">SO</tspan><tspan font-size="8.0" dy="3.30">4</tspan><tspan font-size="8.0" dy="-7.30">2-</tspan><tspan font-size="12.4" dy="4.00"> (mM)</tspan></text>
<path d="M529.90 312.80L534.20 317.10L529.90 321.40L525.60 317.10Z" fill="#000"/>
<text x="537.40" y="321.50" text-anchor="start" font-size="12.4" letter-spacing="0.28" xml:space="preserve"><tspan font-size="12.4">S</tspan><tspan font-size="8.0" dy="3.30">T</tspan><tspan font-size="12.4" dy="-3.30"> (%)</tspan></text>
<text transform="translate(677.00,176.80) rotate(-90)" text-anchor="middle" font-size="12.4" letter-spacing="0.28">Depth (cm)</text>
<text x="622.65" y="271.30" text-anchor="end" font-size="16.3" font-weight="bold">c</text>
<path d="M47.70 379.50H51.70M203.50 379.50H207.50M48.90 387.94H51.70M203.50 387.94H206.30M48.90 396.38H51.70M203.50 396.38H206.30M48.90 404.82H51.70M203.50 404.82H206.30M48.90 413.26H51.70M203.50 413.26H206.30M47.70 421.70H51.70M203.50 421.70H207.50M48.90 430.14H51.70M203.50 430.14H206.30M48.90 438.58H51.70M203.50 438.58H206.30M48.90 447.02H51.70M203.50 447.02H206.30M48.90 455.46H51.70M203.50 455.46H206.30M47.70 463.90H51.70M203.50 463.90H207.50M48.90 472.34H51.70M203.50 472.34H206.30M48.90 480.78H51.70M203.50 480.78H206.30M48.90 489.22H51.70M203.50 489.22H206.30M48.90 497.66H51.70M203.50 497.66H206.30M47.70 506.10H51.70M203.50 506.10H207.50M48.90 514.54H51.70M203.50 514.54H206.30M48.90 522.98H51.70M203.50 522.98H206.30M48.90 531.42H51.70M203.50 531.42H206.30M48.90 539.86H51.70M203.50 539.86H206.30M47.70 548.30H51.70M203.50 548.30H207.50M48.90 556.74H51.70M203.50 556.74H206.30M48.90 565.18H51.70M203.50 565.18H206.30M48.90 573.62H51.70M203.50 573.62H206.30M48.90 582.06H51.70M203.50 582.06H206.30M47.70 590.50H51.70M203.50 590.50H207.50M51.70 375.50V379.50M56.76 376.70V379.50M61.82 376.70V379.50M66.88 376.70V379.50M71.94 376.70V379.50M77.00 375.50V379.50M82.06 376.70V379.50M87.12 376.70V379.50M92.18 376.70V379.50M97.24 376.70V379.50M102.30 375.50V379.50M107.36 376.70V379.50M112.42 376.70V379.50M117.48 376.70V379.50M122.54 376.70V379.50M127.60 375.50V379.50M132.66 376.70V379.50M137.72 376.70V379.50M142.78 376.70V379.50M147.84 376.70V379.50M152.90 375.50V379.50M157.96 376.70V379.50M163.02 376.70V379.50M168.08 376.70V379.50M173.14 376.70V379.50M178.20 375.50V379.50M183.26 376.70V379.50M188.32 376.70V379.50M193.38 376.70V379.50M198.44 376.70V379.50M203.50 375.50V379.50M51.70 590.50V594.50M56.76 590.50V593.30M61.82 590.50V593.30M66.88 590.50V593.30M71.94 590.50V593.30M77.00 590.50V594.50M82.06 590.50V593.30M87.12 590.50V593.30M92.18 590.50V593.30M97.24 590.50V593.30M102.30 590.50V594.50M107.36 590.50V593.30M112.42 590.50V593.30M117.48 590.50V593.30M122.54 590.50V593.30M127.60 590.50V594.50M132.66 590.50V593.30M137.72 590.50V593.30M142.78 590.50V593.30M147.84 590.50V593.30M152.90 590.50V594.50M157.96 590.50V593.30M163.02 590.50V593.30M168.08 590.50V593.30M173.14 590.50V593.30M178.20 590.50V594.50M183.26 590.50V593.30M188.32 590.50V593.30M193.38 590.50V593.30M198.44 590.50V593.30M203.50 590.50V594.50" stroke="#000" stroke-width="1" fill="none"/>
<line x1="51.70" y1="379.00" x2="51.70" y2="591.00" stroke="#000" stroke-width="1.0"/>
<line x1="203.50" y1="379.00" x2="203.50" y2="591.00" stroke="#000" stroke-width="1.0"/>
<line x1="51.70" y1="379.50" x2="203.50" y2="379.50" stroke="#000" stroke-width="1.0"/>
<line x1="51.70" y1="590.50" x2="203.50" y2="590.50" stroke="#000" stroke-width="1.0"/>
<text x="50.10" y="367.90" text-anchor="middle" font-size="12.4" font-weight="normal">-5</text>
<text x="75.40" y="367.90" text-anchor="middle" font-size="12.4" font-weight="normal">-4</text>
<text x="100.70" y="367.90" text-anchor="middle" font-size="12.4" font-weight="normal">-3</text>
<text x="126.00" y="367.90" text-anchor="middle" font-size="12.4" font-weight="normal">-2</text>
<text x="151.30" y="367.90" text-anchor="middle" font-size="12.4" font-weight="normal">-1</text>
<text x="176.60" y="367.90" text-anchor="middle" font-size="12.4" font-weight="normal">0</text>
<text x="201.90" y="367.90" text-anchor="middle" font-size="12.4" font-weight="normal">1</text>
<text x="50.10" y="609.00" text-anchor="middle" font-size="12.4" font-weight="normal">-5</text>
<text x="75.40" y="609.00" text-anchor="middle" font-size="12.4" font-weight="normal">-4</text>
<text x="100.70" y="609.00" text-anchor="middle" font-size="12.4" font-weight="normal">-3</text>
<text x="126.00" y="609.00" text-anchor="middle" font-size="12.4" font-weight="normal">-2</text>
<text x="151.30" y="609.00" text-anchor="middle" font-size="12.4" font-weight="normal">-1</text>
<text x="176.60" y="609.00" text-anchor="middle" font-size="12.4" font-weight="normal">0</text>
<text x="201.90" y="609.00" text-anchor="middle" font-size="12.4" font-weight="normal">1</text>
<text x="37.20" y="383.30" text-anchor="end" font-size="12.4" font-weight="normal">0</text>
<text x="214.10" y="383.30" text-anchor="start" font-size="12.4" font-weight="normal">0</text>
<text x="37.20" y="425.50" text-anchor="end" font-size="12.4" font-weight="normal">5</text>
<text x="214.10" y="425.50" text-anchor="start" font-size="12.4" font-weight="normal">5</text>
<text x="37.20" y="467.70" text-anchor="end" font-size="12.4" font-weight="normal">10</text>
<text x="214.10" y="467.70" text-anchor="start" font-size="12.4" font-weight="normal">10</text>
<text x="37.20" y="509.90" text-anchor="end" font-size="12.4" font-weight="normal">15</text>
<text x="214.10" y="509.90" text-anchor="start" font-size="12.4" font-weight="normal">15</text>
<text x="37.20" y="552.10" text-anchor="end" font-size="12.4" font-weight="normal">20</text>
<text x="214.10" y="552.10" text-anchor="start" font-size="12.4" font-weight="normal">20</text>
<text x="37.20" y="594.30" text-anchor="end" font-size="12.4" font-weight="normal">25</text>
<text x="214.10" y="594.30" text-anchor="start" font-size="12.4" font-weight="normal">25</text>
<polyline fill="none" stroke="#000" stroke-width="1.0" points="62.55,383.72 104.02,392.16 91.83,400.60 112.90,409.04 73.56,434.36 113.61,451.24 119.48,468.12 139.36,485.00 162.82,501.88 170.76,518.76 168.43,535.64 165.42,552.52 139.21,586.28"/>
<polyline fill="none" stroke="#000" stroke-width="1.0" points="148.75,383.72 144.53,400.60 143.36,434.36 116.90,451.24 109.86,468.12 172.18,501.88 163.27,518.76 172.66,535.64 179.21,552.52 155.73,569.40 125.35,586.28"/>
<polyline fill="none" stroke="#000" stroke-width="1.0" points="166.79,383.72 165.63,400.60 163.75,434.36 134.71,451.24 127.45,468.12 176.86,501.88 155.08,518.76 174.53,535.64 178.07,552.52 164.36,569.40 134.05,586.28"/>
<line x1="163.79" y1="383.72" x2="169.79" y2="383.72" stroke="#000" stroke-width="0.9"/>
<line x1="163.79" y1="381.22" x2="163.79" y2="386.22" stroke="#000" stroke-width="0.9"/>
<line x1="169.79" y1="381.22" x2="169.79" y2="386.22" stroke="#000" stroke-width="0.9"/>
<line x1="166.79" y1="380.72" x2="166.79" y2="386.72" stroke="#000" stroke-width="0.9"/>
<line x1="164.29" y1="380.72" x2="169.29" y2="380.72" stroke="#000" stroke-width="0.9"/>
<line x1="164.29" y1="386.72" x2="169.29" y2="386.72" stroke="#000" stroke-width="0.9"/>
<path d="M166.79 380.12L170.39 383.72L166.79 387.32L163.19 383.72Z" fill="#fff" stroke="#000" stroke-width="1"/>
<line x1="162.63" y1="400.60" x2="168.63" y2="400.60" stroke="#000" stroke-width="0.9"/>
<line x1="162.63" y1="398.10" x2="162.63" y2="403.10" stroke="#000" stroke-width="0.9"/>
<line x1="168.63" y1="398.10" x2="168.63" y2="403.10" stroke="#000" stroke-width="0.9"/>
<line x1="165.63" y1="397.60" x2="165.63" y2="403.60" stroke="#000" stroke-width="0.9"/>
<line x1="163.13" y1="397.60" x2="168.13" y2="397.60" stroke="#000" stroke-width="0.9"/>
<line x1="163.13" y1="403.60" x2="168.13" y2="403.60" stroke="#000" stroke-width="0.9"/>
<path d="M165.63 397.00L169.23 400.60L165.63 404.20L162.03 400.60Z" fill="#fff" stroke="#000" stroke-width="1"/>
<line x1="160.75" y1="434.36" x2="166.75" y2="434.36" stroke="#000" stroke-width="0.9"/>
<line x1="160.75" y1="431.86" x2="160.75" y2="436.86" stroke="#000" stroke-width="0.9"/>
<line x1="166.75" y1="431.86" x2="166.75" y2="436.86" stroke="#000" stroke-width="0.9"/>
<line x1="163.75" y1="431.36" x2="163.75" y2="437.36" stroke="#000" stroke-width="0.9"/>
<line x1="161.25" y1="431.36" x2="166.25" y2="431.36" stroke="#000" stroke-width="0.9"/>
<line x1="161.25" y1="437.36" x2="166.25" y2="437.36" stroke="#000" stroke-width="0.9"/>
<path d="M163.75 430.76L167.35 434.36L163.75 437.96L160.15 434.36Z" fill="#fff" stroke="#000" stroke-width="1"/>
<line x1="131.71" y1="451.24" x2="137.71" y2="451.24" stroke="#000" stroke-width="0.9"/>
<line x1="131.71" y1="448.74" x2="131.71" y2="453.74" stroke="#000" stroke-width="0.9"/>
<line x1="137.71" y1="448.74" x2="137.71" y2="453.74" stroke="#000" stroke-width="0.9"/>
<line x1="134.71" y1="448.24" x2="134.71" y2="454.24" stroke="#000" stroke-width="0.9"/>
<line x1="132.21" y1="448.24" x2="137.21" y2="448.24" stroke="#000" stroke-width="0.9"/>
<line x1="132.21" y1="454.24" x2="137.21" y2="454.24" stroke="#000" stroke-width="0.9"/>
<path d="M134.71 447.64L138.31 451.24L134.71 454.84L131.11 451.24Z" fill="#fff" stroke="#000" stroke-width="1"/>
<line x1="124.45" y1="468.12" x2="130.45" y2="468.12" stroke="#000" stroke-width="0.9"/>
<line x1="124.45" y1="465.62" x2="124.45" y2="470.62" stroke="#000" stroke-width="0.9"/>
<line x1="130.45" y1="465.62" x2="130.45" y2="470.62" stroke="#000" stroke-width="0.9"/>
<line x1="127.45" y1="465.12" x2="127.45" y2="471.12" stroke="#000" stroke-width="0.9"/>
<line x1="124.95" y1="465.12" x2="129.95" y2="465.12" stroke="#000" stroke-width="0.9"/>
<line x1="124.95" y1="471.12" x2="129.95" y2="471.12" stroke="#000" stroke-width="0.9"/>
<path d="M127.45 464.52L131.05 468.12L127.45 471.72L123.85 468.12Z" fill="#fff" stroke="#000" stroke-width="1"/>
<line x1="173.86" y1="501.88" x2="179.86" y2="501.88" stroke="#000" stroke-width="0.9"/>
<line x1="173.86" y1="499.38" x2="173.86" y2="504.38" stroke="#000" stroke-width="0.9"/>
<line x1="179.86" y1="499.38" x2="179.86" y2="504.38" stroke="#000" stroke-width="0.9"/>
<line x1="176.86" y1="498.88" x2="176.86" y2="504.88" stroke="#000" stroke-width="0.9"/>
<line x1="174.36" y1="498.88" x2="179.36" y2="498.88" stroke="#000" stroke-width="0.9"/>
<line x1="174.36" y1="504.88" x2="179.36" y2="504.88" stroke="#000" stroke-width="0.9"/>
<path d="M176.86 498.28L180.46 501.88L176.86 505.48L173.26 501.88Z" fill="#fff" stroke="#000" stroke-width="1"/>
<line x1="152.08" y1="518.76" x2="158.08" y2="518.76" stroke="#000" stroke-width="0.9"/>
<line x1="152.08" y1="516.26" x2="152.08" y2="521.26" stroke="#000" stroke-width="0.9"/>
<line x1="158.08" y1="516.26" x2="158.08" y2="521.26" stroke="#000" stroke-width="0.9"/>
<line x1="155.08" y1="515.76" x2="155.08" y2="521.76" stroke="#000" stroke-width="0.9"/>
<line x1="152.58" y1="515.76" x2="157.58" y2="515.76" stroke="#000" stroke-width="0.9"/>
<line x1="152.58" y1="521.76" x2="157.58" y2="521.76" stroke="#000" stroke-width="0.9"/>
<path d="M155.08 515.16L158.68 518.76L155.08 522.36L151.48 518.76Z" fill="#fff" stroke="#000" stroke-width="1"/>
<line x1="171.53" y1="535.64" x2="177.53" y2="535.64" stroke="#000" stroke-width="0.9"/>
<line x1="171.53" y1="533.14" x2="171.53" y2="538.14" stroke="#000" stroke-width="0.9"/>
<line x1="177.53" y1="533.14" x2="177.53" y2="538.14" stroke="#000" stroke-width="0.9"/>
<line x1="174.53" y1="532.64" x2="174.53" y2="538.64" stroke="#000" stroke-width="0.9"/>
<line x1="172.03" y1="532.64" x2="177.03" y2="532.64" stroke="#000" stroke-width="0.9"/>
<line x1="172.03" y1="538.64" x2="177.03" y2="538.64" stroke="#000" stroke-width="0.9"/>
<path d="M174.53 532.04L178.13 535.64L174.53 539.24L170.93 535.64Z" fill="#fff" stroke="#000" stroke-width="1"/>
<line x1="175.07" y1="552.52" x2="181.07" y2="552.52" stroke="#000" stroke-width="0.9"/>
<line x1="175.07" y1="550.02" x2="175.07" y2="555.02" stroke="#000" stroke-width="0.9"/>
<line x1="181.07" y1="550.02" x2="181.07" y2="555.02" stroke="#000" stroke-width="0.9"/>
<line x1="178.07" y1="549.52" x2="178.07" y2="555.52" stroke="#000" stroke-width="0.9"/>
<line x1="175.57" y1="549.52" x2="180.57" y2="549.52" stroke="#000" stroke-width="0.9"/>
<line x1="175.57" y1="555.52" x2="180.57" y2="555.52" stroke="#000" stroke-width="0.9"/>
<path d="M178.07 548.92L181.67 552.52L178.07 556.12L174.47 552.52Z" fill="#fff" stroke="#000" stroke-width="1"/>
<line x1="161.36" y1="569.40" x2="167.36" y2="569.40" stroke="#000" stroke-width="0.9"/>
<line x1="161.36" y1="566.90" x2="161.36" y2="571.90" stroke="#000" stroke-width="0.9"/>
<line x1="167.36" y1="566.90" x2="167.36" y2="571.90" stroke="#000" stroke-width="0.9"/>
<line x1="164.36" y1="566.40" x2="164.36" y2="572.40" stroke="#000" stroke-width="0.9"/>
<line x1="161.86" y1="566.40" x2="166.86" y2="566.40" stroke="#000" stroke-width="0.9"/>
<line x1="161.86" y1="572.40" x2="166.86" y2="572.40" stroke="#000" stroke-width="0.9"/>
<path d="M164.36 565.80L167.96 569.40L164.36 573.00L160.76 569.40Z" fill="#fff" stroke="#000" stroke-width="1"/>
<line x1="131.05" y1="586.28" x2="137.05" y2="586.28" stroke="#000" stroke-width="0.9"/>
<line x1="131.05" y1="583.78" x2="131.05" y2="588.78" stroke="#000" stroke-width="0.9"/>
<line x1="137.05" y1="583.78" x2="137.05" y2="588.78" stroke="#000" stroke-width="0.9"/>
<line x1="134.05" y1="583.28" x2="134.05" y2="589.28" stroke="#000" stroke-width="0.9"/>
<line x1="131.55" y1="583.28" x2="136.55" y2="583.28" stroke="#000" stroke-width="0.9"/>
<line x1="131.55" y1="589.28" x2="136.55" y2="589.28" stroke="#000" stroke-width="0.9"/>
<path d="M134.05 582.68L137.65 586.28L134.05 589.88L130.45 586.28Z" fill="#fff" stroke="#000" stroke-width="1"/>
<line x1="59.55" y1="383.72" x2="65.55" y2="383.72" stroke="#000" stroke-width="0.9"/>
<line x1="59.55" y1="381.22" x2="59.55" y2="386.22" stroke="#000" stroke-width="0.9"/>
<line x1="65.55" y1="381.22" x2="65.55" y2="386.22" stroke="#000" stroke-width="0.9"/>
<line x1="62.55" y1="380.72" x2="62.55" y2="386.72" stroke="#000" stroke-width="0.9"/>
<line x1="60.05" y1="380.72" x2="65.05" y2="380.72" stroke="#000" stroke-width="0.9"/>
<line x1="60.05" y1="386.72" x2="65.05" y2="386.72" stroke="#000" stroke-width="0.9"/>
<path d="M62.55 379.62L66.65 383.72L62.55 387.82L58.45 383.72Z" fill="#000"/>
<line x1="101.02" y1="392.16" x2="107.02" y2="392.16" stroke="#000" stroke-width="0.9"/>
<line x1="101.02" y1="389.66" x2="101.02" y2="394.66" stroke="#000" stroke-width="0.9"/>
<line x1="107.02" y1="389.66" x2="107.02" y2="394.66" stroke="#000" stroke-width="0.9"/>
<line x1="104.02" y1="389.16" x2="104.02" y2="395.16" stroke="#000" stroke-width="0.9"/>
<line x1="101.52" y1="389.16" x2="106.52" y2="389.16" stroke="#000" stroke-width="0.9"/>
<line x1="101.52" y1="395.16" x2="106.52" y2="395.16" stroke="#000" stroke-width="0.9"/>
<path d="M104.02 388.06L108.12 392.16L104.02 396.26L99.92 392.16Z" fill="#000"/>
<line x1="88.83" y1="400.60" x2="94.83" y2="400.60" stroke="#000" stroke-width="0.9"/>
<line x1="88.83" y1="398.10" x2="88.83" y2="403.10" stroke="#000" stroke-width="0.9"/>
<line x1="94.83" y1="398.10" x2="94.83" y2="403.10" stroke="#000" stroke-width="0.9"/>
<line x1="91.83" y1="397.60" x2="91.83" y2="403.60" stroke="#000" stroke-width="0.9"/>
<line x1="89.33" y1="397.60" x2="94.33" y2="397.60" stroke="#000" stroke-width="0.9"/>
<line x1="89.33" y1="403.60" x2="94.33" y2="403.60" stroke="#000" stroke-width="0.9"/>
<path d="M91.83 396.50L95.93 400.60L91.83 404.70L87.73 400.60Z" fill="#000"/>
<line x1="109.90" y1="409.04" x2="115.90" y2="409.04" stroke="#000" stroke-width="0.9"/>
<line x1="109.90" y1="406.54" x2="109.90" y2="411.54" stroke="#000" stroke-width="0.9"/>
<line x1="115.90" y1="406.54" x2="115.90" y2="411.54" stroke="#000" stroke-width="0.9"/>
<line x1="112.90" y1="406.04" x2="112.90" y2="412.04" stroke="#000" stroke-width="0.9"/>
<line x1="110.40" y1="406.04" x2="115.40" y2="406.04" stroke="#000" stroke-width="0.9"/>
<line x1="110.40" y1="412.04" x2="115.40" y2="412.04" stroke="#000" stroke-width="0.9"/>
<path d="M112.90 404.94L117.00 409.04L112.90 413.14L108.80 409.04Z" fill="#000"/>
<line x1="70.56" y1="434.36" x2="76.56" y2="434.36" stroke="#000" stroke-width="0.9"/>
<line x1="70.56" y1="431.86" x2="70.56" y2="436.86" stroke="#000" stroke-width="0.9"/>
<line x1="76.56" y1="431.86" x2="76.56" y2="436.86" stroke="#000" stroke-width="0.9"/>
<line x1="73.56" y1="431.36" x2="73.56" y2="437.36" stroke="#000" stroke-width="0.9"/>
<line x1="71.06" y1="431.36" x2="76.06" y2="431.36" stroke="#000" stroke-width="0.9"/>
<line x1="71.06" y1="437.36" x2="76.06" y2="437.36" stroke="#000" stroke-width="0.9"/>
<path d="M73.56 430.26L77.66 434.36L73.56 438.46L69.46 434.36Z" fill="#000"/>
<line x1="110.61" y1="451.24" x2="116.61" y2="451.24" stroke="#000" stroke-width="0.9"/>
<line x1="110.61" y1="448.74" x2="110.61" y2="453.74" stroke="#000" stroke-width="0.9"/>
<line x1="116.61" y1="448.74" x2="116.61" y2="453.74" stroke="#000" stroke-width="0.9"/>
<line x1="113.61" y1="448.24" x2="113.61" y2="454.24" stroke="#000" stroke-width="0.9"/>
<line x1="111.11" y1="448.24" x2="116.11" y2="448.24" stroke="#000" stroke-width="0.9"/>
<line x1="111.11" y1="454.24" x2="116.11" y2="454.24" stroke="#000" stroke-width="0.9"/>
<path d="M113.61 447.14L117.71 451.24L113.61 455.34L109.51 451.24Z" fill="#000"/>
<line x1="116.48" y1="468.12" x2="122.48" y2="468.12" stroke="#000" stroke-width="0.9"/>
<line x1="116.48" y1="465.62" x2="116.48" y2="470.62" stroke="#000" stroke-width="0.9"/>
<line x1="122.48" y1="465.62" x2="122.48" y2="470.62" stroke="#000" stroke-width="0.9"/>
<line x1="119.48" y1="465.12" x2="119.48" y2="471.12" stroke="#000" stroke-width="0.9"/>
<line x1="116.98" y1="465.12" x2="121.98" y2="465.12" stroke="#000" stroke-width="0.9"/>
<line x1="116.98" y1="471.12" x2="121.98" y2="471.12" stroke="#000" stroke-width="0.9"/>
<path d="M119.48 464.02L123.58 468.12L119.48 472.22L115.38 468.12Z" fill="#000"/>
<line x1="136.36" y1="485.00" x2="142.36" y2="485.00" stroke="#000" stroke-width="0.9"/>
<line x1="136.36" y1="482.50" x2="136.36" y2="487.50" stroke="#000" stroke-width="0.9"/>
<line x1="142.36" y1="482.50" x2="142.36" y2="487.50" stroke="#000" stroke-width="0.9"/>
<line x1="139.36" y1="482.00" x2="139.36" y2="488.00" stroke="#000" stroke-width="0.9"/>
<line x1="136.86" y1="482.00" x2="141.86" y2="482.00" stroke="#000" stroke-width="0.9"/>
<line x1="136.86" y1="488.00" x2="141.86" y2="488.00" stroke="#000" stroke-width="0.9"/>
<path d="M139.36 480.90L143.46 485.00L139.36 489.10L135.26 485.00Z" fill="#000"/>
<line x1="159.82" y1="501.88" x2="165.82" y2="501.88" stroke="#000" stroke-width="0.9"/>
<line x1="159.82" y1="499.38" x2="159.82" y2="504.38" stroke="#000" stroke-width="0.9"/>
<line x1="165.82" y1="499.38" x2="165.82" y2="504.38" stroke="#000" stroke-width="0.9"/>
<line x1="162.82" y1="498.88" x2="162.82" y2="504.88" stroke="#000" stroke-width="0.9"/>
<line x1="160.32" y1="498.88" x2="165.32" y2="498.88" stroke="#000" stroke-width="0.9"/>
<line x1="160.32" y1="504.88" x2="165.32" y2="504.88" stroke="#000" stroke-width="0.9"/>
<path d="M162.82 497.78L166.92 501.88L162.82 505.98L158.72 501.88Z" fill="#000"/>
<line x1="167.76" y1="518.76" x2="173.76" y2="518.76" stroke="#000" stroke-width="0.9"/>
<line x1="167.76" y1="516.26" x2="167.76" y2="521.26" stroke="#000" stroke-width="0.9"/>
<line x1="173.76" y1="516.26" x2="173.76" y2="521.26" stroke="#000" stroke-width="0.9"/>
<line x1="170.76" y1="515.76" x2="170.76" y2="521.76" stroke="#000" stroke-width="0.9"/>
<line x1="168.26" y1="515.76" x2="173.26" y2="515.76" stroke="#000" stroke-width="0.9"/>
<line x1="168.26" y1="521.76" x2="173.26" y2="521.76" stroke="#000" stroke-width="0.9"/>
<path d="M170.76 514.66L174.86 518.76L170.76 522.86L166.66 518.76Z" fill="#000"/>
<line x1="165.43" y1="535.64" x2="171.43" y2="535.64" stroke="#000" stroke-width="0.9"/>
<line x1="165.43" y1="533.14" x2="165.43" y2="538.14" stroke="#000" stroke-width="0.9"/>
<line x1="171.43" y1="533.14" x2="171.43" y2="538.14" stroke="#000" stroke-width="0.9"/>
<line x1="168.43" y1="532.64" x2="168.43" y2="538.64" stroke="#000" stroke-width="0.9"/>
<line x1="165.93" y1="532.64" x2="170.93" y2="532.64" stroke="#000" stroke-width="0.9"/>
<line x1="165.93" y1="538.64" x2="170.93" y2="538.64" stroke="#000" stroke-width="0.9"/>
<path d="M168.43 531.54L172.53 535.64L168.43 539.74L164.33 535.64Z" fill="#000"/>
<line x1="162.42" y1="552.52" x2="168.42" y2="552.52" stroke="#000" stroke-width="0.9"/>
<line x1="162.42" y1="550.02" x2="162.42" y2="555.02" stroke="#000" stroke-width="0.9"/>
<line x1="168.42" y1="550.02" x2="168.42" y2="555.02" stroke="#000" stroke-width="0.9"/>
<line x1="165.42" y1="549.52" x2="165.42" y2="555.52" stroke="#000" stroke-width="0.9"/>
<line x1="162.92" y1="549.52" x2="167.92" y2="549.52" stroke="#000" stroke-width="0.9"/>
<line x1="162.92" y1="555.52" x2="167.92" y2="555.52" stroke="#000" stroke-width="0.9"/>
<path d="M165.42 548.42L169.52 552.52L165.42 556.62L161.32 552.52Z" fill="#000"/>
<line x1="136.21" y1="586.28" x2="142.21" y2="586.28" stroke="#000" stroke-width="0.9"/>
<line x1="136.21" y1="583.78" x2="136.21" y2="588.78" stroke="#000" stroke-width="0.9"/>
<line x1="142.21" y1="583.78" x2="142.21" y2="588.78" stroke="#000" stroke-width="0.9"/>
<line x1="139.21" y1="583.28" x2="139.21" y2="589.28" stroke="#000" stroke-width="0.9"/>
<line x1="136.71" y1="583.28" x2="141.71" y2="583.28" stroke="#000" stroke-width="0.9"/>
<line x1="136.71" y1="589.28" x2="141.71" y2="589.28" stroke="#000" stroke-width="0.9"/>
<path d="M139.21 582.18L143.31 586.28L139.21 590.38L135.11 586.28Z" fill="#000"/>
<line x1="145.75" y1="383.72" x2="151.75" y2="383.72" stroke="#000" stroke-width="0.9"/>
<line x1="145.75" y1="381.22" x2="145.75" y2="386.22" stroke="#000" stroke-width="0.9"/>
<line x1="151.75" y1="381.22" x2="151.75" y2="386.22" stroke="#000" stroke-width="0.9"/>
<line x1="148.75" y1="380.72" x2="148.75" y2="386.72" stroke="#000" stroke-width="0.9"/>
<line x1="146.25" y1="380.72" x2="151.25" y2="380.72" stroke="#000" stroke-width="0.9"/>
<line x1="146.25" y1="386.72" x2="151.25" y2="386.72" stroke="#000" stroke-width="0.9"/>
<circle cx="148.75" cy="383.72" r="3.20" fill="#808080" stroke="#000" stroke-width="1"/>
<line x1="141.53" y1="400.60" x2="147.53" y2="400.60" stroke="#000" stroke-width="0.9"/>
<line x1="141.53" y1="398.10" x2="141.53" y2="403.10" stroke="#000" stroke-width="0.9"/>
<line x1="147.53" y1="398.10" x2="147.53" y2="403.10" stroke="#000" stroke-width="0.9"/>
<line x1="144.53" y1="397.60" x2="144.53" y2="403.60" stroke="#000" stroke-width="0.9"/>
<line x1="142.03" y1="397.60" x2="147.03" y2="397.60" stroke="#000" stroke-width="0.9"/>
<line x1="142.03" y1="403.60" x2="147.03" y2="403.60" stroke="#000" stroke-width="0.9"/>
<circle cx="144.53" cy="400.60" r="3.20" fill="#808080" stroke="#000" stroke-width="1"/>
<line x1="140.36" y1="434.36" x2="146.36" y2="434.36" stroke="#000" stroke-width="0.9"/>
<line x1="140.36" y1="431.86" x2="140.36" y2="436.86" stroke="#000" stroke-width="0.9"/>
<line x1="146.36" y1="431.86" x2="146.36" y2="436.86" stroke="#000" stroke-width="0.9"/>
<line x1="143.36" y1="431.36" x2="143.36" y2="437.36" stroke="#000" stroke-width="0.9"/>
<line x1="140.86" y1="431.36" x2="145.86" y2="431.36" stroke="#000" stroke-width="0.9"/>
<line x1="140.86" y1="437.36" x2="145.86" y2="437.36" stroke="#000" stroke-width="0.9"/>
<circle cx="143.36" cy="434.36" r="3.20" fill="#808080" stroke="#000" stroke-width="1"/>
<line x1="113.90" y1="451.24" x2="119.90" y2="451.24" stroke="#000" stroke-width="0.9"/>
<line x1="113.90" y1="448.74" x2="113.90" y2="453.74" stroke="#000" stroke-width="0.9"/>
<line x1="119.90" y1="448.74" x2="119.90" y2="453.74" stroke="#000" stroke-width="0.9"/>
<line x1="116.90" y1="448.24" x2="116.90" y2="454.24" stroke="#000" stroke-width="0.9"/>
<line x1="114.40" y1="448.24" x2="119.40" y2="448.24" stroke="#000" stroke-width="0.9"/>
<line x1="114.40" y1="454.24" x2="119.40" y2="454.24" stroke="#000" stroke-width="0.9"/>
<circle cx="116.90" cy="451.24" r="3.20" fill="#808080" stroke="#000" stroke-width="1"/>
<line x1="106.86" y1="468.12" x2="112.86" y2="468.12" stroke="#000" stroke-width="0.9"/>
<line x1="106.86" y1="465.62" x2="106.86" y2="470.62" stroke="#000" stroke-width="0.9"/>
<line x1="112.86" y1="465.62" x2="112.86" y2="470.62" stroke="#000" stroke-width="0.9"/>
<line x1="109.86" y1="465.12" x2="109.86" y2="471.12" stroke="#000" stroke-width="0.9"/>
<line x1="107.36" y1="465.12" x2="112.36" y2="465.12" stroke="#000" stroke-width="0.9"/>
<line x1="107.36" y1="471.12" x2="112.36" y2="471.12" stroke="#000" stroke-width="0.9"/>
<circle cx="109.86" cy="468.12" r="3.20" fill="#808080" stroke="#000" stroke-width="1"/>
<line x1="169.18" y1="501.88" x2="175.18" y2="501.88" stroke="#000" stroke-width="0.9"/>
<line x1="169.18" y1="499.38" x2="169.18" y2="504.38" stroke="#000" stroke-width="0.9"/>
<line x1="175.18" y1="499.38" x2="175.18" y2="504.38" stroke="#000" stroke-width="0.9"/>
<line x1="172.18" y1="498.88" x2="172.18" y2="504.88" stroke="#000" stroke-width="0.9"/>
<line x1="169.68" y1="498.88" x2="174.68" y2="498.88" stroke="#000" stroke-width="0.9"/>
<line x1="169.68" y1="504.88" x2="174.68" y2="504.88" stroke="#000" stroke-width="0.9"/>
<circle cx="172.18" cy="501.88" r="3.20" fill="#808080" stroke="#000" stroke-width="1"/>
<line x1="160.27" y1="518.76" x2="166.27" y2="518.76" stroke="#000" stroke-width="0.9"/>
<line x1="160.27" y1="516.26" x2="160.27" y2="521.26" stroke="#000" stroke-width="0.9"/>
<line x1="166.27" y1="516.26" x2="166.27" y2="521.26" stroke="#000" stroke-width="0.9"/>
<line x1="163.27" y1="515.76" x2="163.27" y2="521.76" stroke="#000" stroke-width="0.9"/>
<line x1="160.77" y1="515.76" x2="165.77" y2="515.76" stroke="#000" stroke-width="0.9"/>
<line x1="160.77" y1="521.76" x2="165.77" y2="521.76" stroke="#000" stroke-width="0.9"/>
<circle cx="163.27" cy="518.76" r="3.20" fill="#808080" stroke="#000" stroke-width="1"/>
<line x1="169.66" y1="535.64" x2="175.66" y2="535.64" stroke="#000" stroke-width="0.9"/>
<line x1="169.66" y1="533.14" x2="169.66" y2="538.14" stroke="#000" stroke-width="0.9"/>
<line x1="175.66" y1="533.14" x2="175.66" y2="538.14" stroke="#000" stroke-width="0.9"/>
<line x1="172.66" y1="532.64" x2="172.66" y2="538.64" stroke="#000" stroke-width="0.9"/>
<line x1="170.16" y1="532.64" x2="175.16" y2="532.64" stroke="#000" stroke-width="0.9"/>
<line x1="170.16" y1="538.64" x2="175.16" y2="538.64" stroke="#000" stroke-width="0.9"/>
<circle cx="172.66" cy="535.64" r="3.20" fill="#808080" stroke="#000" stroke-width="1"/>
<line x1="176.21" y1="552.52" x2="182.21" y2="552.52" stroke="#000" stroke-width="0.9"/>
<line x1="176.21" y1="550.02" x2="176.21" y2="555.02" stroke="#000" stroke-width="0.9"/>
<line x1="182.21" y1="550.02" x2="182.21" y2="555.02" stroke="#000" stroke-width="0.9"/>
<line x1="179.21" y1="549.52" x2="179.21" y2="555.52" stroke="#000" stroke-width="0.9"/>
<line x1="176.71" y1="549.52" x2="181.71" y2="549.52" stroke="#000" stroke-width="0.9"/>
<line x1="176.71" y1="555.52" x2="181.71" y2="555.52" stroke="#000" stroke-width="0.9"/>
<circle cx="179.21" cy="552.52" r="3.20" fill="#808080" stroke="#000" stroke-width="1"/>
<line x1="152.73" y1="569.40" x2="158.73" y2="569.40" stroke="#000" stroke-width="0.9"/>
<line x1="152.73" y1="566.90" x2="152.73" y2="571.90" stroke="#000" stroke-width="0.9"/>
<line x1="158.73" y1="566.90" x2="158.73" y2="571.90" stroke="#000" stroke-width="0.9"/>
<line x1="155.73" y1="566.40" x2="155.73" y2="572.40" stroke="#000" stroke-width="0.9"/>
<line x1="153.23" y1="566.40" x2="158.23" y2="566.40" stroke="#000" stroke-width="0.9"/>
<line x1="153.23" y1="572.40" x2="158.23" y2="572.40" stroke="#000" stroke-width="0.9"/>
<circle cx="155.73" cy="569.40" r="3.20" fill="#808080" stroke="#000" stroke-width="1"/>
<line x1="122.35" y1="586.28" x2="128.35" y2="586.28" stroke="#000" stroke-width="0.9"/>
<line x1="122.35" y1="583.78" x2="122.35" y2="588.78" stroke="#000" stroke-width="0.9"/>
<line x1="128.35" y1="583.78" x2="128.35" y2="588.78" stroke="#000" stroke-width="0.9"/>
<line x1="125.35" y1="583.28" x2="125.35" y2="589.28" stroke="#000" stroke-width="0.9"/>
<line x1="122.85" y1="583.28" x2="127.85" y2="583.28" stroke="#000" stroke-width="0.9"/>
<line x1="122.85" y1="589.28" x2="127.85" y2="589.28" stroke="#000" stroke-width="0.9"/>
<circle cx="125.35" cy="586.28" r="3.20" fill="#808080" stroke="#000" stroke-width="1"/>
<path d="M91.00 340.60L95.30 344.90L91.00 349.20L86.70 344.90Z" fill="#000"/>
<text x="99.50" y="349.40" text-anchor="start" font-size="12.4" letter-spacing="0.28" xml:space="preserve"><tspan font-size="12.4">δ'</tspan><tspan font-size="8.0" dy="-4.00">56</tspan><tspan font-size="12.4" dy="4.00">Fe</tspan><tspan font-size="8.0" dy="3.30">d</tspan><tspan font-size="12.4" dy="-3.30"> (‰)</tspan></text>
<path d="M53.90 619.40L57.70 623.20L53.90 627.00L50.10 623.20Z" fill="#fff" stroke="#000" stroke-width="1"/>
<text x="61.80" y="628.40" text-anchor="start" font-size="12.4" letter-spacing="0.28" xml:space="preserve"><tspan font-size="12.4">δ'</tspan><tspan font-size="8.0" dy="-4.00">56</tspan><tspan font-size="12.4" dy="4.00">Fe</tspan><tspan font-size="8.0" dy="3.30">T</tspan><tspan font-size="12.4" dy="-3.30">,</tspan></text>
<circle cx="114.90" cy="623.20" r="3.40" fill="#808080" stroke="#000" stroke-width="1"/>
<text x="122.30" y="628.40" text-anchor="start" font-size="12.4" letter-spacing="0.28" xml:space="preserve"><tspan font-size="12.4">δ'</tspan><tspan font-size="8.0" dy="-4.00">56</tspan><tspan font-size="12.4" dy="4.00">Fe</tspan><tspan font-size="8.0" dy="3.30">HCl</tspan><tspan font-size="12.4" dy="-3.30"> (‰)</tspan></text>
<text transform="translate(10.10,486.80) rotate(-90)" text-anchor="middle" font-size="12.4" letter-spacing="0.28">Depth (cm)</text>
<text x="190.55" y="578.10" text-anchor="end" font-size="16.3" font-weight="bold">d</text>
<path d="M262.30 379.50H266.30M417.60 379.50H421.60M263.50 387.94H266.30M417.60 387.94H420.40M263.50 396.38H266.30M417.60 396.38H420.40M263.50 404.82H266.30M417.60 404.82H420.40M263.50 413.26H266.30M417.60 413.26H420.40M262.30 421.70H266.30M417.60 421.70H421.60M263.50 430.14H266.30M417.60 430.14H420.40M263.50 438.58H266.30M417.60 438.58H420.40M263.50 447.02H266.30M417.60 447.02H420.40M263.50 455.46H266.30M417.60 455.46H420.40M262.30 463.90H266.30M417.60 463.90H421.60M263.50 472.34H266.30M417.60 472.34H420.40M263.50 480.78H266.30M417.60 480.78H420.40M263.50 489.22H266.30M417.60 489.22H420.40M263.50 497.66H266.30M417.60 497.66H420.40M262.30 506.10H266.30M417.60 506.10H421.60M263.50 514.54H266.30M417.60 514.54H420.40M263.50 522.98H266.30M417.60 522.98H420.40M263.50 531.42H266.30M417.60 531.42H420.40M263.50 539.86H266.30M417.60 539.86H420.40M262.30 548.30H266.30M417.60 548.30H421.60M263.50 556.74H266.30M417.60 556.74H420.40M263.50 565.18H266.30M417.60 565.18H420.40M263.50 573.62H266.30M417.60 573.62H420.40M263.50 582.06H266.30M417.60 582.06H420.40M262.30 590.50H266.30M417.60 590.50H421.60M266.30 375.50V379.50M281.43 376.70V379.50M296.56 376.70V379.50M311.69 376.70V379.50M326.82 376.70V379.50M341.95 375.50V379.50M357.08 376.70V379.50M372.21 376.70V379.50M387.34 376.70V379.50M402.47 376.70V379.50M417.60 375.50V379.50M266.30 590.50V594.50M281.43 590.50V593.30M296.56 590.50V593.30M311.69 590.50V593.30M326.82 590.50V593.30M341.95 590.50V594.50M357.08 590.50V593.30M372.21 590.50V593.30M387.34 590.50V593.30M402.47 590.50V593.30M417.60 590.50V594.50" stroke="#000" stroke-width="1" fill="none"/>
<line x1="266.30" y1="379.00" x2="266.30" y2="591.00" stroke="#444" stroke-width="1.5"/>
<line x1="417.60" y1="379.00" x2="417.60" y2="591.00" stroke="#000" stroke-width="1.0"/>
<line x1="266.30" y1="379.50" x2="417.60" y2="379.50" stroke="#000" stroke-width="1.0"/>
<line x1="266.30" y1="590.50" x2="417.60" y2="590.50" stroke="#000" stroke-width="1.0"/>
<text x="264.70" y="367.90" text-anchor="middle" font-size="12.4" font-weight="normal">-0.2</text>
<text x="340.35" y="367.90" text-anchor="middle" font-size="12.4" font-weight="normal">0.8</text>
<text x="416.00" y="367.90" text-anchor="middle" font-size="12.4" font-weight="normal">1.8</text>
<text x="264.70" y="609.00" text-anchor="middle" font-size="12.4" font-weight="normal">-0.2</text>
<text x="340.35" y="609.00" text-anchor="middle" font-size="12.4" font-weight="normal">0.8</text>
<text x="416.00" y="609.00" text-anchor="middle" font-size="12.4" font-weight="normal">1.8</text>
<text x="251.30" y="383.30" text-anchor="end" font-size="12.4" font-weight="normal">0</text>
<text x="428.20" y="383.30" text-anchor="start" font-size="12.4" font-weight="normal">0</text>
<text x="251.30" y="425.50" text-anchor="end" font-size="12.4" font-weight="normal">5</text>
<text x="428.20" y="425.50" text-anchor="start" font-size="12.4" font-weight="normal">5</text>
<text x="251.30" y="467.70" text-anchor="end" font-size="12.4" font-weight="normal">10</text>
<text x="428.20" y="467.70" text-anchor="start" font-size="12.4" font-weight="normal">10</text>
<text x="251.30" y="509.90" text-anchor="end" font-size="12.4" font-weight="normal">15</text>
<text x="428.20" y="509.90" text-anchor="start" font-size="12.4" font-weight="normal">15</text>
<text x="251.30" y="552.10" text-anchor="end" font-size="12.4" font-weight="normal">20</text>
<text x="428.20" y="552.10" text-anchor="start" font-size="12.4" font-weight="normal">20</text>
<text x="251.30" y="594.30" text-anchor="end" font-size="12.4" font-weight="normal">25</text>
<text x="428.20" y="594.30" text-anchor="start" font-size="12.4" font-weight="normal">25</text>
<polyline fill="none" stroke="#000" stroke-width="1.0" points="278.18,383.72 278.93,400.60 271.90,434.36 294.52,451.24 284.08,468.12 279.31,501.88 275.76,518.76 281.66,535.64 283.17,552.52 282.19,569.40 276.82,586.28"/>
<polyline fill="none" stroke="#000" stroke-width="1.0" points="278.18,383.72 275.76,400.60 279.39,434.36 270.01,451.24 283.70,468.12 279.92,501.88 279.16,518.76 284.83,535.64 279.54,552.52 284.83,569.40 279.54,586.28"/>
<polyline fill="none" stroke="#000" stroke-width="1.0" points="401.94,383.72 313.96,392.16 350.57,400.60 337.71,409.04 346.64,434.36 282.87,451.24 277.50,468.12 281.13,485.00 284.61,501.88"/>
<line x1="268.34" y1="383.72" x2="288.01" y2="383.72" stroke="#000" stroke-width="1.0"/>
<line x1="268.34" y1="380.72" x2="268.34" y2="386.72" stroke="#000" stroke-width="1.0"/>
<line x1="288.01" y1="380.72" x2="288.01" y2="386.72" stroke="#000" stroke-width="1.0"/>
<path d="M278.18 379.72L282.18 383.72L278.18 387.72L274.18 383.72Z" fill="#fff" stroke="#2f5597" stroke-width="1"/>
<line x1="265.92" y1="400.60" x2="285.59" y2="400.60" stroke="#000" stroke-width="1.0"/>
<line x1="265.92" y1="397.60" x2="265.92" y2="403.60" stroke="#000" stroke-width="1.0"/>
<line x1="285.59" y1="397.60" x2="285.59" y2="403.60" stroke="#000" stroke-width="1.0"/>
<path d="M275.76 396.60L279.76 400.60L275.76 404.60L271.76 400.60Z" fill="#fff" stroke="#2f5597" stroke-width="1"/>
<line x1="269.55" y1="434.36" x2="289.22" y2="434.36" stroke="#000" stroke-width="1.0"/>
<line x1="269.55" y1="431.36" x2="269.55" y2="437.36" stroke="#000" stroke-width="1.0"/>
<line x1="289.22" y1="431.36" x2="289.22" y2="437.36" stroke="#000" stroke-width="1.0"/>
<path d="M279.39 430.36L283.39 434.36L279.39 438.36L275.39 434.36Z" fill="#fff" stroke="#2f5597" stroke-width="1"/>
<line x1="260.17" y1="451.24" x2="279.84" y2="451.24" stroke="#000" stroke-width="1.0"/>
<line x1="260.17" y1="448.24" x2="260.17" y2="454.24" stroke="#000" stroke-width="1.0"/>
<line x1="279.84" y1="448.24" x2="279.84" y2="454.24" stroke="#000" stroke-width="1.0"/>
<path d="M270.01 447.24L274.01 451.24L270.01 455.24L266.01 451.24Z" fill="#fff" stroke="#2f5597" stroke-width="1"/>
<line x1="273.87" y1="468.12" x2="293.53" y2="468.12" stroke="#000" stroke-width="1.0"/>
<line x1="273.87" y1="465.12" x2="273.87" y2="471.12" stroke="#000" stroke-width="1.0"/>
<line x1="293.53" y1="465.12" x2="293.53" y2="471.12" stroke="#000" stroke-width="1.0"/>
<path d="M283.70 464.12L287.70 468.12L283.70 472.12L279.70 468.12Z" fill="#fff" stroke="#2f5597" stroke-width="1"/>
<line x1="270.08" y1="501.88" x2="289.75" y2="501.88" stroke="#000" stroke-width="1.0"/>
<line x1="270.08" y1="498.88" x2="270.08" y2="504.88" stroke="#000" stroke-width="1.0"/>
<line x1="289.75" y1="498.88" x2="289.75" y2="504.88" stroke="#000" stroke-width="1.0"/>
<path d="M279.92 497.88L283.92 501.88L279.92 505.88L275.92 501.88Z" fill="#fff" stroke="#2f5597" stroke-width="1"/>
<line x1="269.33" y1="518.76" x2="289.00" y2="518.76" stroke="#000" stroke-width="1.0"/>
<line x1="269.33" y1="515.76" x2="269.33" y2="521.76" stroke="#000" stroke-width="1.0"/>
<line x1="289.00" y1="515.76" x2="289.00" y2="521.76" stroke="#000" stroke-width="1.0"/>
<path d="M279.16 514.76L283.16 518.76L279.16 522.76L275.16 518.76Z" fill="#fff" stroke="#2f5597" stroke-width="1"/>
<line x1="275.00" y1="535.64" x2="294.67" y2="535.64" stroke="#000" stroke-width="1.0"/>
<line x1="275.00" y1="532.64" x2="275.00" y2="538.64" stroke="#000" stroke-width="1.0"/>
<line x1="294.67" y1="532.64" x2="294.67" y2="538.64" stroke="#000" stroke-width="1.0"/>
<path d="M284.83 531.64L288.83 535.64L284.83 539.64L280.83 535.64Z" fill="#fff" stroke="#2f5597" stroke-width="1"/>
<line x1="269.70" y1="552.52" x2="289.37" y2="552.52" stroke="#000" stroke-width="1.0"/>
<line x1="269.70" y1="549.52" x2="269.70" y2="555.52" stroke="#000" stroke-width="1.0"/>
<line x1="289.37" y1="549.52" x2="289.37" y2="555.52" stroke="#000" stroke-width="1.0"/>
<path d="M279.54 548.52L283.54 552.52L279.54 556.52L275.54 552.52Z" fill="#fff" stroke="#2f5597" stroke-width="1"/>
<line x1="275.00" y1="569.40" x2="294.67" y2="569.40" stroke="#000" stroke-width="1.0"/>
<line x1="275.00" y1="566.40" x2="275.00" y2="572.40" stroke="#000" stroke-width="1.0"/>
<line x1="294.67" y1="566.40" x2="294.67" y2="572.40" stroke="#000" stroke-width="1.0"/>
<path d="M284.83 565.40L288.83 569.40L284.83 573.40L280.83 569.40Z" fill="#fff" stroke="#2f5597" stroke-width="1"/>
<line x1="269.70" y1="586.28" x2="289.37" y2="586.28" stroke="#000" stroke-width="1.0"/>
<line x1="269.70" y1="583.28" x2="269.70" y2="589.28" stroke="#000" stroke-width="1.0"/>
<line x1="289.37" y1="583.28" x2="289.37" y2="589.28" stroke="#000" stroke-width="1.0"/>
<path d="M279.54 582.28L283.54 586.28L279.54 590.28L275.54 586.28Z" fill="#fff" stroke="#2f5597" stroke-width="1"/>
<line x1="391.73" y1="383.72" x2="412.15" y2="383.72" stroke="#000" stroke-width="1.0"/>
<line x1="391.73" y1="380.72" x2="391.73" y2="386.72" stroke="#000" stroke-width="1.0"/>
<line x1="412.15" y1="380.72" x2="412.15" y2="386.72" stroke="#000" stroke-width="1.0"/>
<path d="M401.94 379.62L406.04 383.72L401.94 387.82L397.84 383.72Z" fill="#000"/>
<line x1="303.75" y1="392.16" x2="324.17" y2="392.16" stroke="#000" stroke-width="1.0"/>
<line x1="303.75" y1="389.16" x2="303.75" y2="395.16" stroke="#000" stroke-width="1.0"/>
<line x1="324.17" y1="389.16" x2="324.17" y2="395.16" stroke="#000" stroke-width="1.0"/>
<path d="M313.96 388.06L318.06 392.16L313.96 396.26L309.86 392.16Z" fill="#000"/>
<line x1="340.36" y1="400.60" x2="360.79" y2="400.60" stroke="#000" stroke-width="1.0"/>
<line x1="340.36" y1="397.60" x2="340.36" y2="403.60" stroke="#000" stroke-width="1.0"/>
<line x1="360.79" y1="397.60" x2="360.79" y2="403.60" stroke="#000" stroke-width="1.0"/>
<path d="M350.57 396.50L354.67 400.60L350.57 404.70L346.47 400.60Z" fill="#000"/>
<line x1="327.50" y1="409.04" x2="347.93" y2="409.04" stroke="#000" stroke-width="1.0"/>
<line x1="327.50" y1="406.04" x2="327.50" y2="412.04" stroke="#000" stroke-width="1.0"/>
<line x1="347.93" y1="406.04" x2="347.93" y2="412.04" stroke="#000" stroke-width="1.0"/>
<path d="M337.71 404.94L341.81 409.04L337.71 413.14L333.61 409.04Z" fill="#000"/>
<line x1="336.43" y1="434.36" x2="356.85" y2="434.36" stroke="#000" stroke-width="1.0"/>
<line x1="336.43" y1="431.36" x2="336.43" y2="437.36" stroke="#000" stroke-width="1.0"/>
<line x1="356.85" y1="431.36" x2="356.85" y2="437.36" stroke="#000" stroke-width="1.0"/>
<path d="M346.64 430.26L350.74 434.36L346.64 438.46L342.54 434.36Z" fill="#000"/>
<line x1="272.65" y1="451.24" x2="293.08" y2="451.24" stroke="#000" stroke-width="1.0"/>
<line x1="272.65" y1="448.24" x2="272.65" y2="454.24" stroke="#000" stroke-width="1.0"/>
<line x1="293.08" y1="448.24" x2="293.08" y2="454.24" stroke="#000" stroke-width="1.0"/>
<path d="M282.87 447.14L286.97 451.24L282.87 455.34L278.77 451.24Z" fill="#000"/>
<line x1="267.28" y1="468.12" x2="287.71" y2="468.12" stroke="#000" stroke-width="1.0"/>
<line x1="267.28" y1="465.12" x2="267.28" y2="471.12" stroke="#000" stroke-width="1.0"/>
<line x1="287.71" y1="465.12" x2="287.71" y2="471.12" stroke="#000" stroke-width="1.0"/>
<path d="M277.50 464.02L281.60 468.12L277.50 472.22L273.40 468.12Z" fill="#000"/>
<line x1="270.91" y1="485.00" x2="291.34" y2="485.00" stroke="#000" stroke-width="1.0"/>
<line x1="270.91" y1="482.00" x2="270.91" y2="488.00" stroke="#000" stroke-width="1.0"/>
<line x1="291.34" y1="482.00" x2="291.34" y2="488.00" stroke="#000" stroke-width="1.0"/>
<path d="M281.13 480.90L285.23 485.00L281.13 489.10L277.03 485.00Z" fill="#000"/>
<line x1="274.39" y1="501.88" x2="294.82" y2="501.88" stroke="#000" stroke-width="1.0"/>
<line x1="274.39" y1="498.88" x2="274.39" y2="504.88" stroke="#000" stroke-width="1.0"/>
<line x1="294.82" y1="498.88" x2="294.82" y2="504.88" stroke="#000" stroke-width="1.0"/>
<path d="M284.61 497.78L288.71 501.88L284.61 505.98L280.51 501.88Z" fill="#000"/>
<line x1="268.34" y1="383.72" x2="288.01" y2="383.72" stroke="#000" stroke-width="1.0"/>
<line x1="268.34" y1="380.72" x2="268.34" y2="386.72" stroke="#000" stroke-width="1.0"/>
<line x1="288.01" y1="380.72" x2="288.01" y2="386.72" stroke="#000" stroke-width="1.0"/>
<circle cx="278.18" cy="383.72" r="4.10" fill="#808080" stroke="#000" stroke-width="1"/>
<line x1="269.10" y1="400.60" x2="288.77" y2="400.60" stroke="#000" stroke-width="1.0"/>
<line x1="269.10" y1="397.60" x2="269.10" y2="403.60" stroke="#000" stroke-width="1.0"/>
<line x1="288.77" y1="397.60" x2="288.77" y2="403.60" stroke="#000" stroke-width="1.0"/>
<circle cx="278.93" cy="400.60" r="4.10" fill="#808080" stroke="#000" stroke-width="1"/>
<line x1="262.06" y1="434.36" x2="281.73" y2="434.36" stroke="#000" stroke-width="1.0"/>
<line x1="262.06" y1="431.36" x2="262.06" y2="437.36" stroke="#000" stroke-width="1.0"/>
<line x1="281.73" y1="431.36" x2="281.73" y2="437.36" stroke="#000" stroke-width="1.0"/>
<circle cx="271.90" cy="434.36" r="4.10" fill="#808080" stroke="#000" stroke-width="1"/>
<line x1="284.68" y1="451.24" x2="304.35" y2="451.24" stroke="#000" stroke-width="1.0"/>
<line x1="284.68" y1="448.24" x2="284.68" y2="454.24" stroke="#000" stroke-width="1.0"/>
<line x1="304.35" y1="448.24" x2="304.35" y2="454.24" stroke="#000" stroke-width="1.0"/>
<circle cx="294.52" cy="451.24" r="4.10" fill="#808080" stroke="#000" stroke-width="1"/>
<line x1="274.24" y1="468.12" x2="293.91" y2="468.12" stroke="#000" stroke-width="1.0"/>
<line x1="274.24" y1="465.12" x2="274.24" y2="471.12" stroke="#000" stroke-width="1.0"/>
<line x1="293.91" y1="465.12" x2="293.91" y2="471.12" stroke="#000" stroke-width="1.0"/>
<circle cx="284.08" cy="468.12" r="4.10" fill="#808080" stroke="#000" stroke-width="1"/>
<line x1="269.48" y1="501.88" x2="289.15" y2="501.88" stroke="#000" stroke-width="1.0"/>
<line x1="269.48" y1="498.88" x2="269.48" y2="504.88" stroke="#000" stroke-width="1.0"/>
<line x1="289.15" y1="498.88" x2="289.15" y2="504.88" stroke="#000" stroke-width="1.0"/>
<circle cx="279.31" cy="501.88" r="4.10" fill="#808080" stroke="#000" stroke-width="1"/>
<line x1="265.92" y1="518.76" x2="285.59" y2="518.76" stroke="#000" stroke-width="1.0"/>
<line x1="265.92" y1="515.76" x2="265.92" y2="521.76" stroke="#000" stroke-width="1.0"/>
<line x1="285.59" y1="515.76" x2="285.59" y2="521.76" stroke="#000" stroke-width="1.0"/>
<circle cx="275.76" cy="518.76" r="4.10" fill="#808080" stroke="#000" stroke-width="1"/>
<line x1="271.82" y1="535.64" x2="291.49" y2="535.64" stroke="#000" stroke-width="1.0"/>
<line x1="271.82" y1="532.64" x2="271.82" y2="538.64" stroke="#000" stroke-width="1.0"/>
<line x1="291.49" y1="532.64" x2="291.49" y2="538.64" stroke="#000" stroke-width="1.0"/>
<circle cx="281.66" cy="535.64" r="4.10" fill="#808080" stroke="#000" stroke-width="1"/>
<line x1="273.34" y1="552.52" x2="293.00" y2="552.52" stroke="#000" stroke-width="1.0"/>
<line x1="273.34" y1="549.52" x2="273.34" y2="555.52" stroke="#000" stroke-width="1.0"/>
<line x1="293.00" y1="549.52" x2="293.00" y2="555.52" stroke="#000" stroke-width="1.0"/>
<circle cx="283.17" cy="552.52" r="4.10" fill="#808080" stroke="#000" stroke-width="1"/>
<line x1="272.35" y1="569.40" x2="292.02" y2="569.40" stroke="#000" stroke-width="1.0"/>
<line x1="272.35" y1="566.40" x2="272.35" y2="572.40" stroke="#000" stroke-width="1.0"/>
<line x1="292.02" y1="566.40" x2="292.02" y2="572.40" stroke="#000" stroke-width="1.0"/>
<circle cx="282.19" cy="569.40" r="4.10" fill="#808080" stroke="#000" stroke-width="1"/>
<line x1="266.98" y1="586.28" x2="286.65" y2="586.28" stroke="#000" stroke-width="1.0"/>
<line x1="266.98" y1="583.28" x2="266.98" y2="589.28" stroke="#000" stroke-width="1.0"/>
<line x1="286.65" y1="583.28" x2="286.65" y2="589.28" stroke="#000" stroke-width="1.0"/>
<circle cx="276.82" cy="586.28" r="4.10" fill="#808080" stroke="#000" stroke-width="1"/>
<path d="M306.10 341.20L310.40 345.50L306.10 349.80L301.80 345.50Z" fill="#000"/>
<text x="313.50" y="349.40" text-anchor="start" font-size="12.4" letter-spacing="0.28" xml:space="preserve"><tspan font-size="12.4"><tspan font-family="Liberation Serif" stroke-width="0">Δ</tspan>'</tspan><tspan font-size="8.0" dy="-4.00">57</tspan><tspan font-size="12.4" dy="4.00">Fe</tspan><tspan font-size="8.0" dy="3.30">d</tspan><tspan font-size="12.4" dy="-3.30"> (‰)</tspan></text>
<path d="M269.00 621.20L272.80 625.00L269.00 628.80L265.20 625.00Z" fill="#fff" stroke="#000" stroke-width="1"/>
<text x="277.60" y="629.90" text-anchor="start" font-size="12.4" letter-spacing="0.28" xml:space="preserve"><tspan font-size="12.4"><tspan font-family="Liberation Serif" stroke-width="0">Δ</tspan>'</tspan><tspan font-size="8.0" dy="-4.00">57</tspan><tspan font-size="12.4" dy="4.00">Fe</tspan><tspan font-size="8.0" dy="3.30">T</tspan><tspan font-size="12.4" dy="-3.30">,</tspan></text>
<circle cx="332.20" cy="625.00" r="3.40" fill="#808080" stroke="#000" stroke-width="1"/>
<text x="340.00" y="629.90" text-anchor="start" font-size="12.4" letter-spacing="0.28" xml:space="preserve"><tspan font-size="12.4"><tspan font-family="Liberation Serif" stroke-width="0">Δ</tspan>'</tspan><tspan font-size="8.0" dy="-4.00">57</tspan><tspan font-size="12.4" dy="4.00">Fe</tspan><tspan font-size="8.0" dy="3.30">HCl</tspan><tspan font-size="12.4" dy="-3.30"> (‰)</tspan></text>
<text x="406.85" y="578.60" text-anchor="end" font-size="16.3" font-weight="bold">e</text>
<path d="M477.60 379.50H481.60M632.80 379.50H636.80M478.80 387.94H481.60M632.80 387.94H635.60M478.80 396.38H481.60M632.80 396.38H635.60M478.80 404.82H481.60M632.80 404.82H635.60M478.80 413.26H481.60M632.80 413.26H635.60M477.60 421.70H481.60M632.80 421.70H636.80M478.80 430.14H481.60M632.80 430.14H635.60M478.80 438.58H481.60M632.80 438.58H635.60M478.80 447.02H481.60M632.80 447.02H635.60M478.80 455.46H481.60M632.80 455.46H635.60M477.60 463.90H481.60M632.80 463.90H636.80M478.80 472.34H481.60M632.80 472.34H635.60M478.80 480.78H481.60M632.80 480.78H635.60M478.80 489.22H481.60M632.80 489.22H635.60M478.80 497.66H481.60M632.80 497.66H635.60M477.60 506.10H481.60M632.80 506.10H636.80M478.80 514.54H481.60M632.80 514.54H635.60M478.80 522.98H481.60M632.80 522.98H635.60M478.80 531.42H481.60M632.80 531.42H635.60M478.80 539.86H481.60M632.80 539.86H635.60M477.60 548.30H481.60M632.80 548.30H636.80M478.80 556.74H481.60M632.80 556.74H635.60M478.80 565.18H481.60M632.80 565.18H635.60M478.80 573.62H481.60M632.80 573.62H635.60M478.80 582.06H481.60M632.80 582.06H635.60M477.60 590.50H481.60M632.80 590.50H636.80M481.60 375.50V379.50M487.65 376.70V379.50M493.70 376.70V379.50M499.74 376.70V379.50M505.79 376.70V379.50M511.84 375.50V379.50M517.89 376.70V379.50M523.94 376.70V379.50M529.98 376.70V379.50M536.03 376.70V379.50M542.08 375.50V379.50M548.13 376.70V379.50M554.18 376.70V379.50M560.22 376.70V379.50M566.27 376.70V379.50M572.32 375.50V379.50M578.37 376.70V379.50M584.42 376.70V379.50M590.46 376.70V379.50M596.51 376.70V379.50M602.56 375.50V379.50M608.61 376.70V379.50M614.66 376.70V379.50M620.70 376.70V379.50M626.75 376.70V379.50M632.80 375.50V379.50M481.60 590.50V594.50M487.65 590.50V593.30M493.70 590.50V593.30M499.74 590.50V593.30M505.79 590.50V593.30M511.84 590.50V594.50M517.89 590.50V593.30M523.94 590.50V593.30M529.98 590.50V593.30M536.03 590.50V593.30M542.08 590.50V594.50M548.13 590.50V593.30M554.18 590.50V593.30M560.22 590.50V593.30M566.27 590.50V593.30M572.32 590.50V594.50M578.37 590.50V593.30M584.42 590.50V593.30M590.46 590.50V593.30M596.51 590.50V593.30M602.56 590.50V594.50M608.61 590.50V593.30M614.66 590.50V593.30M620.70 590.50V593.30M626.75 590.50V593.30M632.80 590.50V594.50" stroke="#000" stroke-width="1" fill="none"/>
<line x1="481.60" y1="379.00" x2="481.60" y2="591.00" stroke="#000" stroke-width="1.0"/>
<line x1="632.80" y1="379.00" x2="632.80" y2="591.00" stroke="#000" stroke-width="1.0"/>
<line x1="481.60" y1="379.50" x2="632.80" y2="379.50" stroke="#000" stroke-width="1.0"/>
<line x1="481.60" y1="590.50" x2="632.80" y2="590.50" stroke="#000" stroke-width="1.0"/>
<text x="480.00" y="367.90" text-anchor="middle" font-size="12.4" font-weight="normal">0.0</text>
<text x="510.24" y="367.90" text-anchor="middle" font-size="12.4" font-weight="normal">0.1</text>
<text x="540.48" y="367.90" text-anchor="middle" font-size="12.4" font-weight="normal">0.2</text>
<text x="570.72" y="367.90" text-anchor="middle" font-size="12.4" font-weight="normal">0.3</text>
<text x="600.96" y="367.90" text-anchor="middle" font-size="12.4" font-weight="normal">0.4</text>
<text x="631.20" y="367.90" text-anchor="middle" font-size="12.4" font-weight="normal">0.5</text>
<text x="480.00" y="609.00" text-anchor="middle" font-size="12.4" font-weight="normal">0.0</text>
<text x="510.24" y="609.00" text-anchor="middle" font-size="12.4" font-weight="normal">1.0</text>
<text x="540.48" y="609.00" text-anchor="middle" font-size="12.4" font-weight="normal">2.0</text>
<text x="570.72" y="609.00" text-anchor="middle" font-size="12.4" font-weight="normal">3.0</text>
<text x="600.96" y="609.00" text-anchor="middle" font-size="12.4" font-weight="normal">4.0</text>
<text x="631.20" y="609.00" text-anchor="middle" font-size="12.4" font-weight="normal">5.0</text>
<text x="466.80" y="383.30" text-anchor="end" font-size="12.4" font-weight="normal">0</text>
<text x="643.40" y="383.30" text-anchor="start" font-size="12.4" font-weight="normal">0</text>
<text x="466.80" y="425.50" text-anchor="end" font-size="12.4" font-weight="normal">5</text>
<text x="643.40" y="425.50" text-anchor="start" font-size="12.4" font-weight="normal">5</text>
<text x="466.80" y="467.70" text-anchor="end" font-size="12.4" font-weight="normal">10</text>
<text x="643.40" y="467.70" text-anchor="start" font-size="12.4" font-weight="normal">10</text>
<text x="466.80" y="509.90" text-anchor="end" font-size="12.4" font-weight="normal">15</text>
<text x="643.40" y="509.90" text-anchor="start" font-size="12.4" font-weight="normal">15</text>
<text x="466.80" y="552.10" text-anchor="end" font-size="12.4" font-weight="normal">20</text>
<text x="643.40" y="552.10" text-anchor="start" font-size="12.4" font-weight="normal">20</text>
<text x="466.80" y="594.30" text-anchor="end" font-size="12.4" font-weight="normal">25</text>
<text x="643.40" y="594.30" text-anchor="start" font-size="12.4" font-weight="normal">25</text>
<polyline fill="none" stroke="#000" stroke-width="1.0" points="593.55,383.72 554.33,392.16 569.05,400.60 553.87,409.04 531.65,417.48 560.68,434.36 537.30,451.24 536.15,468.12 487.80,485.00 484.35,501.88 487.13,518.76 489.01,535.64 484.35,552.52 491.82,569.40 493.21,586.28"/>
<polyline fill="none" stroke="#000" stroke-width="1.0" points="550.85,383.72 524.00,392.16 533.76,400.60 525.18,409.04 514.11,417.48 523.48,434.36 599.38,451.24 602.86,468.12 486.89,485.00 483.87,501.88 485.50,518.76 490.88,535.64 485.50,552.52 496.72,569.40 534.97,586.28"/>
<polyline fill="none" stroke="#000" stroke-width="1.0" points="500.20,383.72 498.81,392.16 498.81,400.60 498.81,409.04 500.68,417.48 497.66,434.36 545.47,451.24 548.97,468.12 507.21,485.00 499.99,501.88 498.81,518.76 518.89,535.64 519.82,552.52 524.00,569.40 618.04,586.28"/>
<path d="M550.85 380.12L554.45 383.72L550.85 387.32L547.25 383.72Z" fill="#fff" stroke="#000" stroke-width="1"/>
<path d="M524.00 388.56L527.60 392.16L524.00 395.76L520.40 392.16Z" fill="#fff" stroke="#000" stroke-width="1"/>
<path d="M533.76 397.00L537.36 400.60L533.76 404.20L530.16 400.60Z" fill="#fff" stroke="#000" stroke-width="1"/>
<path d="M525.18 405.44L528.78 409.04L525.18 412.64L521.58 409.04Z" fill="#fff" stroke="#000" stroke-width="1"/>
<path d="M514.11 413.88L517.71 417.48L514.11 421.08L510.51 417.48Z" fill="#fff" stroke="#000" stroke-width="1"/>
<path d="M523.48 430.76L527.08 434.36L523.48 437.96L519.88 434.36Z" fill="#fff" stroke="#000" stroke-width="1"/>
<path d="M599.38 447.64L602.98 451.24L599.38 454.84L595.78 451.24Z" fill="#fff" stroke="#000" stroke-width="1"/>
<path d="M602.86 464.52L606.46 468.12L602.86 471.72L599.26 468.12Z" fill="#fff" stroke="#000" stroke-width="1"/>
<path d="M486.89 481.40L490.49 485.00L486.89 488.60L483.29 485.00Z" fill="#fff" stroke="#000" stroke-width="1"/>
<path d="M483.87 498.28L487.47 501.88L483.87 505.48L480.27 501.88Z" fill="#fff" stroke="#000" stroke-width="1"/>
<path d="M485.50 515.16L489.10 518.76L485.50 522.36L481.90 518.76Z" fill="#fff" stroke="#000" stroke-width="1"/>
<path d="M490.88 532.04L494.48 535.64L490.88 539.24L487.28 535.64Z" fill="#fff" stroke="#000" stroke-width="1"/>
<path d="M485.50 548.92L489.10 552.52L485.50 556.12L481.90 552.52Z" fill="#fff" stroke="#000" stroke-width="1"/>
<path d="M496.72 565.80L500.32 569.40L496.72 573.00L493.12 569.40Z" fill="#fff" stroke="#000" stroke-width="1"/>
<path d="M534.97 582.68L538.57 586.28L534.97 589.88L531.37 586.28Z" fill="#fff" stroke="#000" stroke-width="1"/>
<circle cx="593.55" cy="383.72" r="3.20" fill="#808080" stroke="#000" stroke-width="1"/>
<circle cx="554.33" cy="392.16" r="3.20" fill="#808080" stroke="#000" stroke-width="1"/>
<circle cx="569.05" cy="400.60" r="3.20" fill="#808080" stroke="#000" stroke-width="1"/>
<circle cx="553.87" cy="409.04" r="3.20" fill="#808080" stroke="#000" stroke-width="1"/>
<circle cx="531.65" cy="417.48" r="3.20" fill="#808080" stroke="#000" stroke-width="1"/>
<circle cx="560.68" cy="434.36" r="3.20" fill="#808080" stroke="#000" stroke-width="1"/>
<circle cx="537.30" cy="451.24" r="3.20" fill="#808080" stroke="#000" stroke-width="1"/>
<circle cx="536.15" cy="468.12" r="3.20" fill="#808080" stroke="#000" stroke-width="1"/>
<circle cx="487.80" cy="485.00" r="3.20" fill="#808080" stroke="#000" stroke-width="1"/>
<circle cx="484.35" cy="501.88" r="3.20" fill="#808080" stroke="#000" stroke-width="1"/>
<circle cx="487.13" cy="518.76" r="3.20" fill="#808080" stroke="#000" stroke-width="1"/>
<circle cx="489.01" cy="535.64" r="3.20" fill="#808080" stroke="#000" stroke-width="1"/>
<circle cx="484.35" cy="552.52" r="3.20" fill="#808080" stroke="#000" stroke-width="1"/>
<circle cx="491.82" cy="569.40" r="3.20" fill="#808080" stroke="#000" stroke-width="1"/>
<circle cx="493.21" cy="586.28" r="3.20" fill="#808080" stroke="#000" stroke-width="1"/>
<path d="M500.20 379.62L504.30 383.72L500.20 387.82L496.10 383.72Z" fill="#000"/>
<path d="M498.81 388.06L502.91 392.16L498.81 396.26L494.71 392.16Z" fill="#000"/>
<path d="M498.81 396.50L502.91 400.60L498.81 404.70L494.71 400.60Z" fill="#000"/>
<path d="M498.81 404.94L502.91 409.04L498.81 413.14L494.71 409.04Z" fill="#000"/>
<path d="M500.68 413.38L504.78 417.48L500.68 421.58L496.58 417.48Z" fill="#000"/>
<path d="M497.66 430.26L501.76 434.36L497.66 438.46L493.56 434.36Z" fill="#000"/>
<path d="M545.47 447.14L549.57 451.24L545.47 455.34L541.37 451.24Z" fill="#000"/>
<path d="M548.97 464.02L553.07 468.12L548.97 472.22L544.87 468.12Z" fill="#000"/>
<path d="M507.21 480.90L511.31 485.00L507.21 489.10L503.11 485.00Z" fill="#000"/>
<path d="M499.99 497.78L504.09 501.88L499.99 505.98L495.89 501.88Z" fill="#000"/>
<path d="M498.81 514.66L502.91 518.76L498.81 522.86L494.71 518.76Z" fill="#000"/>
<path d="M518.89 531.54L522.99 535.64L518.89 539.74L514.79 535.64Z" fill="#000"/>
<path d="M519.82 548.42L523.92 552.52L519.82 556.62L515.72 552.52Z" fill="#000"/>
<path d="M524.00 565.30L528.10 569.40L524.00 573.50L519.90 569.40Z" fill="#000"/>
<path d="M618.04 582.18L622.14 586.28L618.04 590.38L613.94 586.28Z" fill="#000"/>
<path d="M495.20 341.20L499.00 345.00L495.20 348.80L491.40 345.00Z" fill="#fff" stroke="#000" stroke-width="1"/>
<text x="503.90" y="349.40" text-anchor="start" font-size="12.4" letter-spacing="0.28" xml:space="preserve"><tspan font-size="12.4">Mn</tspan><tspan font-size="8.0" dy="3.30">T</tspan><tspan font-size="12.4" dy="-3.30">/Al,</tspan></text>
<circle cx="560.00" cy="345.00" r="3.40" fill="#808080" stroke="#000" stroke-width="1"/>
<text x="567.00" y="349.40" text-anchor="start" font-size="12.4" letter-spacing="0.28" xml:space="preserve"><tspan font-size="12.4">Mn</tspan><tspan font-size="8.0" dy="3.30">T</tspan><tspan font-size="12.4" dy="-3.30">/Fe</tspan><tspan font-size="8.0" dy="3.30">T</tspan></text>
<path d="M530.90 619.70L535.20 624.00L530.90 628.30L526.60 624.00Z" fill="#000"/>
<text x="539.80" y="628.70" text-anchor="start" font-size="12.4" letter-spacing="0.28" xml:space="preserve"><tspan font-size="12.4">Fe</tspan><tspan font-size="8.0" dy="3.30">T</tspan><tspan font-size="12.4" dy="-3.30">/Al</tspan></text>
<text transform="translate(680.50,486.80) rotate(-90)" text-anchor="middle" font-size="12.4" letter-spacing="0.28">Depth (cm)</text>
<text x="619.20" y="578.60" text-anchor="end" font-size="16.3" font-weight="bold">f</text>
<path d="M45.60 730.00H49.60M202.40 730.00H206.40M46.80 738.52H49.60M202.40 738.52H205.20M46.80 747.03H49.60M202.40 747.03H205.20M46.80 755.55H49.60M202.40 755.55H205.20M46.80 764.06H49.60M202.40 764.06H205.20M45.60 772.58H49.60M202.40 772.58H206.40M46.80 781.10H49.60M202.40 781.10H205.20M46.80 789.61H49.60M202.40 789.61H205.20M46.80 798.13H49.60M202.40 798.13H205.20M46.80 806.64H49.60M202.40 806.64H205.20M45.60 815.16H49.60M202.40 815.16H206.40M46.80 823.68H49.60M202.40 823.68H205.20M46.80 832.19H49.60M202.40 832.19H205.20M46.80 840.71H49.60M202.40 840.71H205.20M46.80 849.22H49.60M202.40 849.22H205.20M45.60 857.74H49.60M202.40 857.74H206.40M46.80 866.26H49.60M202.40 866.26H205.20M46.80 874.77H49.60M202.40 874.77H205.20M46.80 883.29H49.60M202.40 883.29H205.20M46.80 891.80H49.60M202.40 891.80H205.20M45.60 900.32H49.60M202.40 900.32H206.40M46.80 908.84H49.60M202.40 908.84H205.20M46.80 917.35H49.60M202.40 917.35H205.20M46.80 925.87H49.60M202.40 925.87H205.20M46.80 934.38H49.60M202.40 934.38H205.20M45.60 942.90H49.60M202.40 942.90H206.40M49.60 726.00V730.00M59.79 727.20V730.00M69.97 727.20V730.00M80.16 727.20V730.00M90.35 727.20V730.00M100.53 726.00V730.00M110.72 727.20V730.00M120.91 727.20V730.00M131.09 727.20V730.00M141.28 727.20V730.00M151.47 726.00V730.00M161.65 727.20V730.00M171.84 727.20V730.00M182.03 727.20V730.00M192.21 727.20V730.00M202.40 726.00V730.00M49.60 942.90V946.90M59.79 942.90V945.70M69.97 942.90V945.70M80.16 942.90V945.70M90.35 942.90V945.70M100.53 942.90V946.90M110.72 942.90V945.70M120.91 942.90V945.70M131.09 942.90V945.70M141.28 942.90V945.70M151.47 942.90V946.90M161.65 942.90V945.70M171.84 942.90V945.70M182.03 942.90V945.70M192.21 942.90V945.70M202.40 942.90V946.90" stroke="#000" stroke-width="1" fill="none"/>
<line x1="49.60" y1="729.00" x2="49.60" y2="943.90" stroke="#000" stroke-width="1.0"/>
<line x1="202.40" y1="729.00" x2="202.40" y2="943.90" stroke="#000" stroke-width="1.0"/>
<line x1="49.60" y1="730.00" x2="202.40" y2="730.00" stroke="#666" stroke-width="2.0"/>
<line x1="49.60" y1="942.90" x2="202.40" y2="942.90" stroke="#666" stroke-width="2.0"/>
<text x="48.00" y="719.00" text-anchor="middle" font-size="12.4" font-weight="normal">0</text>
<text x="98.93" y="719.00" text-anchor="middle" font-size="12.4" font-weight="normal">40</text>
<text x="149.87" y="719.00" text-anchor="middle" font-size="12.4" font-weight="normal">80</text>
<text x="200.80" y="719.00" text-anchor="middle" font-size="12.4" font-weight="normal">120</text>
<text x="48.00" y="961.20" text-anchor="middle" font-size="12.4" font-weight="normal">0</text>
<text x="98.93" y="961.20" text-anchor="middle" font-size="12.4" font-weight="normal">40</text>
<text x="149.87" y="961.20" text-anchor="middle" font-size="12.4" font-weight="normal">80</text>
<text x="200.80" y="961.20" text-anchor="middle" font-size="12.4" font-weight="normal">120</text>
<text x="38.30" y="733.80" text-anchor="end" font-size="12.4" font-weight="normal">0</text>
<text x="213.30" y="733.80" text-anchor="start" font-size="12.4" font-weight="normal">0</text>
<text x="38.30" y="776.38" text-anchor="end" font-size="12.4" font-weight="normal">5</text>
<text x="213.30" y="776.38" text-anchor="start" font-size="12.4" font-weight="normal">5</text>
<text x="38.30" y="818.96" text-anchor="end" font-size="12.4" font-weight="normal">10</text>
<text x="213.30" y="818.96" text-anchor="start" font-size="12.4" font-weight="normal">10</text>
<text x="38.30" y="861.54" text-anchor="end" font-size="12.4" font-weight="normal">15</text>
<text x="213.30" y="861.54" text-anchor="start" font-size="12.4" font-weight="normal">15</text>
<text x="38.30" y="904.12" text-anchor="end" font-size="12.4" font-weight="normal">20</text>
<text x="213.30" y="904.12" text-anchor="start" font-size="12.4" font-weight="normal">20</text>
<text x="38.30" y="946.70" text-anchor="end" font-size="12.4" font-weight="normal">25</text>
<text x="213.30" y="946.70" text-anchor="start" font-size="12.4" font-weight="normal">25</text>
<polyline fill="none" stroke="#000" stroke-width="1.0" points="116.70,734.26 147.77,742.77 184.45,751.29 178.21,759.81 164.07,768.32 149.68,776.84 153.63,785.35 148.92,793.87 145.99,802.39 152.49,810.90 148.54,819.42 138.48,827.93 140.90,836.45 127.27,844.97 120.40,853.48 109.32,862.00 105.12,870.51 96.46,879.03 85.25,887.55 76.98,896.06"/>
<polyline fill="none" stroke="#000" stroke-width="1.0" points="76.59,734.26 177.44,742.77 98.24,751.29 74.18,759.81 66.54,768.32 64.88,776.84 64.88,785.35 64.88,793.87 64.37,802.39 69.08,810.90 69.08,819.42 67.68,827.93 72.39,836.45 66.54,844.97 66.79,853.48 64.37,862.00 63.22,870.51 60.93,879.03 60.93,887.55 59.02,896.06"/>
<line x1="112.88" y1="734.26" x2="120.52" y2="734.26" stroke="#000" stroke-width="1.0"/>
<line x1="112.88" y1="731.26" x2="112.88" y2="737.26" stroke="#000" stroke-width="1.0"/>
<line x1="120.52" y1="731.26" x2="120.52" y2="737.26" stroke="#000" stroke-width="1.0"/>
<path d="M116.70 730.66L120.30 734.26L116.70 737.86L113.10 734.26Z" fill="#fff" stroke="#000" stroke-width="1"/>
<line x1="142.68" y1="742.77" x2="152.87" y2="742.77" stroke="#000" stroke-width="1.0"/>
<line x1="142.68" y1="739.77" x2="142.68" y2="745.77" stroke="#000" stroke-width="1.0"/>
<line x1="152.87" y1="739.77" x2="152.87" y2="745.77" stroke="#000" stroke-width="1.0"/>
<path d="M147.77 739.17L151.37 742.77L147.77 746.37L144.17 742.77Z" fill="#fff" stroke="#000" stroke-width="1"/>
<line x1="178.72" y1="751.29" x2="190.18" y2="751.29" stroke="#000" stroke-width="1.0"/>
<line x1="178.72" y1="748.29" x2="178.72" y2="754.29" stroke="#000" stroke-width="1.0"/>
<line x1="190.18" y1="748.29" x2="190.18" y2="754.29" stroke="#000" stroke-width="1.0"/>
<path d="M184.45 747.69L188.05 751.29L184.45 754.89L180.85 751.29Z" fill="#fff" stroke="#000" stroke-width="1"/>
<line x1="172.48" y1="759.81" x2="183.94" y2="759.81" stroke="#000" stroke-width="1.0"/>
<line x1="172.48" y1="756.81" x2="172.48" y2="762.81" stroke="#000" stroke-width="1.0"/>
<line x1="183.94" y1="756.81" x2="183.94" y2="762.81" stroke="#000" stroke-width="1.0"/>
<path d="M178.21 756.21L181.81 759.81L178.21 763.41L174.61 759.81Z" fill="#fff" stroke="#000" stroke-width="1"/>
<line x1="158.34" y1="768.32" x2="169.80" y2="768.32" stroke="#000" stroke-width="1.0"/>
<line x1="158.34" y1="765.32" x2="158.34" y2="771.32" stroke="#000" stroke-width="1.0"/>
<line x1="169.80" y1="765.32" x2="169.80" y2="771.32" stroke="#000" stroke-width="1.0"/>
<path d="M164.07 764.72L167.67 768.32L164.07 771.92L160.47 768.32Z" fill="#fff" stroke="#000" stroke-width="1"/>
<line x1="145.23" y1="776.84" x2="154.14" y2="776.84" stroke="#000" stroke-width="1.0"/>
<line x1="145.23" y1="773.84" x2="145.23" y2="779.84" stroke="#000" stroke-width="1.0"/>
<line x1="154.14" y1="773.84" x2="154.14" y2="779.84" stroke="#000" stroke-width="1.0"/>
<path d="M149.68 773.24L153.28 776.84L149.68 780.44L146.08 776.84Z" fill="#fff" stroke="#000" stroke-width="1"/>
<line x1="149.17" y1="785.35" x2="158.09" y2="785.35" stroke="#000" stroke-width="1.0"/>
<line x1="149.17" y1="782.35" x2="149.17" y2="788.35" stroke="#000" stroke-width="1.0"/>
<line x1="158.09" y1="782.35" x2="158.09" y2="788.35" stroke="#000" stroke-width="1.0"/>
<path d="M153.63 781.75L157.23 785.35L153.63 788.95L150.03 785.35Z" fill="#fff" stroke="#000" stroke-width="1"/>
<line x1="145.10" y1="793.87" x2="152.74" y2="793.87" stroke="#000" stroke-width="1.0"/>
<line x1="145.10" y1="790.87" x2="145.10" y2="796.87" stroke="#000" stroke-width="1.0"/>
<line x1="152.74" y1="790.87" x2="152.74" y2="796.87" stroke="#000" stroke-width="1.0"/>
<path d="M148.92 790.27L152.52 793.87L148.92 797.47L145.32 793.87Z" fill="#fff" stroke="#000" stroke-width="1"/>
<line x1="142.17" y1="802.39" x2="149.81" y2="802.39" stroke="#000" stroke-width="1.0"/>
<line x1="142.17" y1="799.39" x2="142.17" y2="805.39" stroke="#000" stroke-width="1.0"/>
<line x1="149.81" y1="799.39" x2="149.81" y2="805.39" stroke="#000" stroke-width="1.0"/>
<path d="M145.99 798.79L149.59 802.39L145.99 805.99L142.39 802.39Z" fill="#fff" stroke="#000" stroke-width="1"/>
<line x1="148.03" y1="810.90" x2="156.94" y2="810.90" stroke="#000" stroke-width="1.0"/>
<line x1="148.03" y1="807.90" x2="148.03" y2="813.90" stroke="#000" stroke-width="1.0"/>
<line x1="156.94" y1="807.90" x2="156.94" y2="813.90" stroke="#000" stroke-width="1.0"/>
<path d="M152.49 807.30L156.09 810.90L152.49 814.50L148.89 810.90Z" fill="#fff" stroke="#000" stroke-width="1"/>
<line x1="144.08" y1="819.42" x2="152.99" y2="819.42" stroke="#000" stroke-width="1.0"/>
<line x1="144.08" y1="816.42" x2="144.08" y2="822.42" stroke="#000" stroke-width="1.0"/>
<line x1="152.99" y1="816.42" x2="152.99" y2="822.42" stroke="#000" stroke-width="1.0"/>
<path d="M148.54 815.82L152.14 819.42L148.54 823.02L144.94 819.42Z" fill="#fff" stroke="#000" stroke-width="1"/>
<line x1="134.02" y1="827.93" x2="142.94" y2="827.93" stroke="#000" stroke-width="1.0"/>
<line x1="134.02" y1="824.93" x2="134.02" y2="830.93" stroke="#000" stroke-width="1.0"/>
<line x1="142.94" y1="824.93" x2="142.94" y2="830.93" stroke="#000" stroke-width="1.0"/>
<path d="M138.48 824.33L142.08 827.93L138.48 831.53L134.88 827.93Z" fill="#fff" stroke="#000" stroke-width="1"/>
<line x1="136.44" y1="836.45" x2="145.35" y2="836.45" stroke="#000" stroke-width="1.0"/>
<line x1="136.44" y1="833.45" x2="136.44" y2="839.45" stroke="#000" stroke-width="1.0"/>
<line x1="145.35" y1="833.45" x2="145.35" y2="839.45" stroke="#000" stroke-width="1.0"/>
<path d="M140.90 832.85L144.50 836.45L140.90 840.05L137.30 836.45Z" fill="#fff" stroke="#000" stroke-width="1"/>
<line x1="123.45" y1="844.97" x2="131.09" y2="844.97" stroke="#000" stroke-width="1.0"/>
<line x1="123.45" y1="841.97" x2="123.45" y2="847.97" stroke="#000" stroke-width="1.0"/>
<line x1="131.09" y1="841.97" x2="131.09" y2="847.97" stroke="#000" stroke-width="1.0"/>
<path d="M127.27 841.37L130.87 844.97L127.27 848.57L123.67 844.97Z" fill="#fff" stroke="#000" stroke-width="1"/>
<line x1="116.58" y1="853.48" x2="124.22" y2="853.48" stroke="#000" stroke-width="1.0"/>
<line x1="116.58" y1="850.48" x2="116.58" y2="856.48" stroke="#000" stroke-width="1.0"/>
<line x1="124.22" y1="850.48" x2="124.22" y2="856.48" stroke="#000" stroke-width="1.0"/>
<path d="M120.40 849.88L124.00 853.48L120.40 857.08L116.80 853.48Z" fill="#fff" stroke="#000" stroke-width="1"/>
<line x1="106.14" y1="862.00" x2="112.50" y2="862.00" stroke="#000" stroke-width="1.0"/>
<line x1="106.14" y1="859.00" x2="106.14" y2="865.00" stroke="#000" stroke-width="1.0"/>
<line x1="112.50" y1="859.00" x2="112.50" y2="865.00" stroke="#000" stroke-width="1.0"/>
<path d="M109.32 858.40L112.92 862.00L109.32 865.60L105.72 862.00Z" fill="#fff" stroke="#000" stroke-width="1"/>
<line x1="101.93" y1="870.51" x2="108.30" y2="870.51" stroke="#000" stroke-width="1.0"/>
<line x1="101.93" y1="867.51" x2="101.93" y2="873.51" stroke="#000" stroke-width="1.0"/>
<line x1="108.30" y1="867.51" x2="108.30" y2="873.51" stroke="#000" stroke-width="1.0"/>
<path d="M105.12 866.91L108.72 870.51L105.12 874.11L101.52 870.51Z" fill="#fff" stroke="#000" stroke-width="1"/>
<line x1="93.91" y1="879.03" x2="99.01" y2="879.03" stroke="#000" stroke-width="1.0"/>
<line x1="93.91" y1="876.03" x2="93.91" y2="882.03" stroke="#000" stroke-width="1.0"/>
<line x1="99.01" y1="876.03" x2="99.01" y2="882.03" stroke="#000" stroke-width="1.0"/>
<path d="M96.46 875.43L100.06 879.03L96.46 882.63L92.86 879.03Z" fill="#fff" stroke="#000" stroke-width="1"/>
<line x1="83.34" y1="887.55" x2="87.16" y2="887.55" stroke="#000" stroke-width="1.0"/>
<line x1="83.34" y1="884.55" x2="83.34" y2="890.55" stroke="#000" stroke-width="1.0"/>
<line x1="87.16" y1="884.55" x2="87.16" y2="890.55" stroke="#000" stroke-width="1.0"/>
<path d="M85.25 883.95L88.85 887.55L85.25 891.15L81.65 887.55Z" fill="#fff" stroke="#000" stroke-width="1"/>
<line x1="75.70" y1="896.06" x2="78.25" y2="896.06" stroke="#000" stroke-width="1.0"/>
<line x1="75.70" y1="893.06" x2="75.70" y2="899.06" stroke="#000" stroke-width="1.0"/>
<line x1="78.25" y1="893.06" x2="78.25" y2="899.06" stroke="#000" stroke-width="1.0"/>
<path d="M76.98 892.46L80.58 896.06L76.98 899.66L73.38 896.06Z" fill="#fff" stroke="#000" stroke-width="1"/>
<path d="M76.59 730.16L80.69 734.26L76.59 738.36L72.49 734.26Z" fill="#000"/>
<line x1="175.53" y1="742.77" x2="179.35" y2="742.77" stroke="#000" stroke-width="1.0"/>
<line x1="175.53" y1="739.77" x2="175.53" y2="745.77" stroke="#000" stroke-width="1.0"/>
<line x1="179.35" y1="739.77" x2="179.35" y2="745.77" stroke="#000" stroke-width="1.0"/>
<path d="M177.44 738.67L181.54 742.77L177.44 746.87L173.34 742.77Z" fill="#000"/>
<path d="M98.24 747.19L102.34 751.29L98.24 755.39L94.14 751.29Z" fill="#000"/>
<path d="M74.18 755.71L78.28 759.81L74.18 763.91L70.08 759.81Z" fill="#000"/>
<path d="M66.54 764.22L70.64 768.32L66.54 772.42L62.44 768.32Z" fill="#000"/>
<path d="M64.88 772.74L68.98 776.84L64.88 780.94L60.78 776.84Z" fill="#000"/>
<path d="M64.88 781.25L68.98 785.35L64.88 789.45L60.78 785.35Z" fill="#000"/>
<path d="M64.88 789.77L68.98 793.87L64.88 797.97L60.78 793.87Z" fill="#000"/>
<path d="M64.37 798.29L68.47 802.39L64.37 806.49L60.27 802.39Z" fill="#000"/>
<path d="M69.08 806.80L73.18 810.90L69.08 815.00L64.98 810.90Z" fill="#000"/>
<path d="M69.08 815.32L73.18 819.42L69.08 823.52L64.98 819.42Z" fill="#000"/>
<path d="M67.68 823.83L71.78 827.93L67.68 832.03L63.58 827.93Z" fill="#000"/>
<path d="M72.39 832.35L76.49 836.45L72.39 840.55L68.29 836.45Z" fill="#000"/>
<path d="M66.54 840.87L70.64 844.97L66.54 849.07L62.44 844.97Z" fill="#000"/>
<path d="M66.79 849.38L70.89 853.48L66.79 857.58L62.69 853.48Z" fill="#000"/>
<path d="M64.37 857.90L68.47 862.00L64.37 866.10L60.27 862.00Z" fill="#000"/>
<path d="M63.22 866.41L67.32 870.51L63.22 874.61L59.12 870.51Z" fill="#000"/>
<path d="M60.93 874.93L65.03 879.03L60.93 883.13L56.83 879.03Z" fill="#000"/>
<path d="M60.93 883.45L65.03 887.55L60.93 891.65L56.83 887.55Z" fill="#000"/>
<path d="M59.02 891.96L63.12 896.06L59.02 900.16L54.92 896.06Z" fill="#000"/>
<path d="M91.50 691.00L95.30 694.80L91.50 698.60L87.70 694.80Z" fill="#fff" stroke="#000" stroke-width="1"/>
<text x="98.80" y="699.00" text-anchor="start" font-size="12.4" letter-spacing="0.28" xml:space="preserve"><tspan font-size="12.4">Mn</tspan><tspan font-size="8.0" dy="3.30">d</tspan><tspan font-size="12.4" dy="-3.30"> (µM)</tspan></text>
<path d="M93.30 972.30L97.60 976.60L93.30 980.90L89.00 976.60Z" fill="#000"/>
<text x="101.30" y="981.20" text-anchor="start" font-size="12.4" letter-spacing="0.28" xml:space="preserve"><tspan font-size="12.4">Fe</tspan><tspan font-size="8.0" dy="3.30">d</tspan><tspan font-size="12.4" dy="-3.30"> (µM)</tspan></text>
<text transform="translate(15.50,836.30) rotate(-90)" text-anchor="middle" font-size="12.4" letter-spacing="0.28">Depth (cm)</text>
<text x="190.65" y="930.30" text-anchor="end" font-size="16.3" font-weight="bold">a</text>
<path d="M260.70 730.30H264.70M417.00 730.30H421.00M261.90 738.83H264.70M417.00 738.83H419.80M261.90 747.36H264.70M417.00 747.36H419.80M261.90 755.90H264.70M417.00 755.90H419.80M261.90 764.43H264.70M417.00 764.43H419.80M260.70 772.96H264.70M417.00 772.96H421.00M261.90 781.49H264.70M417.00 781.49H419.80M261.90 790.02H264.70M417.00 790.02H419.80M261.90 798.56H264.70M417.00 798.56H419.80M261.90 807.09H264.70M417.00 807.09H419.80M260.70 815.62H264.70M417.00 815.62H421.00M261.90 824.15H264.70M417.00 824.15H419.80M261.90 832.68H264.70M417.00 832.68H419.80M261.90 841.22H264.70M417.00 841.22H419.80M261.90 849.75H264.70M417.00 849.75H419.80M260.70 858.28H264.70M417.00 858.28H421.00M261.90 866.81H264.70M417.00 866.81H419.80M261.90 875.34H264.70M417.00 875.34H419.80M261.90 883.88H264.70M417.00 883.88H419.80M261.90 892.41H264.70M417.00 892.41H419.80M260.70 900.94H264.70M417.00 900.94H421.00M261.90 909.47H264.70M417.00 909.47H419.80M261.90 918.00H264.70M417.00 918.00H419.80M261.90 926.54H264.70M417.00 926.54H419.80M261.90 935.07H264.70M417.00 935.07H419.80M260.70 943.60H264.70M417.00 943.60H421.00M264.70 726.30V730.30M274.85 727.50V730.30M285.01 727.50V730.30M295.16 727.50V730.30M305.31 727.50V730.30M315.47 726.30V730.30M325.62 727.50V730.30M335.77 727.50V730.30M345.93 727.50V730.30M356.08 727.50V730.30M366.23 726.30V730.30M376.39 727.50V730.30M386.54 727.50V730.30M396.69 727.50V730.30M406.85 727.50V730.30M417.00 726.30V730.30M264.70 943.60V947.60M274.85 943.60V946.40M285.01 943.60V946.40M295.16 943.60V946.40M305.31 943.60V946.40M315.47 943.60V947.60M325.62 943.60V946.40M335.77 943.60V946.40M345.93 943.60V946.40M356.08 943.60V946.40M366.23 943.60V947.60M376.39 943.60V946.40M386.54 943.60V946.40M396.69 943.60V946.40M406.85 943.60V946.40M417.00 943.60V947.60" stroke="#000" stroke-width="1" fill="none"/>
<line x1="264.70" y1="729.80" x2="264.70" y2="944.10" stroke="#000" stroke-width="1.0"/>
<line x1="417.00" y1="729.80" x2="417.00" y2="944.10" stroke="#666" stroke-width="2.0"/>
<line x1="264.70" y1="730.30" x2="417.00" y2="730.30" stroke="#000" stroke-width="1.0"/>
<line x1="264.70" y1="943.60" x2="417.00" y2="943.60" stroke="#000" stroke-width="1.0"/>
<text x="263.10" y="719.00" text-anchor="middle" font-size="12.4" font-weight="normal">0.0</text>
<text x="313.87" y="719.00" text-anchor="middle" font-size="12.4" font-weight="normal">0.4</text>
<text x="364.63" y="719.00" text-anchor="middle" font-size="12.4" font-weight="normal">0.8</text>
<text x="415.40" y="719.00" text-anchor="middle" font-size="12.4" font-weight="normal">1.2</text>
<text x="263.10" y="961.20" text-anchor="middle" font-size="12.4" font-weight="normal">0.0</text>
<text x="313.87" y="961.20" text-anchor="middle" font-size="12.4" font-weight="normal">0.4</text>
<text x="364.63" y="961.20" text-anchor="middle" font-size="12.4" font-weight="normal">0.8</text>
<text x="415.40" y="961.20" text-anchor="middle" font-size="12.4" font-weight="normal">1.2</text>
<text x="254.20" y="734.10" text-anchor="end" font-size="12.4" font-weight="normal">0</text>
<text x="427.40" y="734.10" text-anchor="start" font-size="12.4" font-weight="normal">0</text>
<text x="254.20" y="776.76" text-anchor="end" font-size="12.4" font-weight="normal">5</text>
<text x="427.40" y="776.76" text-anchor="start" font-size="12.4" font-weight="normal">5</text>
<text x="254.20" y="819.42" text-anchor="end" font-size="12.4" font-weight="normal">10</text>
<text x="427.40" y="819.42" text-anchor="start" font-size="12.4" font-weight="normal">10</text>
<text x="254.20" y="862.08" text-anchor="end" font-size="12.4" font-weight="normal">15</text>
<text x="427.40" y="862.08" text-anchor="start" font-size="12.4" font-weight="normal">15</text>
<text x="254.20" y="904.74" text-anchor="end" font-size="12.4" font-weight="normal">20</text>
<text x="427.40" y="904.74" text-anchor="start" font-size="12.4" font-weight="normal">20</text>
<text x="254.20" y="947.40" text-anchor="end" font-size="12.4" font-weight="normal">25</text>
<text x="427.40" y="947.40" text-anchor="start" font-size="12.4" font-weight="normal">25</text>
<polyline fill="none" stroke="#000" stroke-width="1.0" points="274.47,734.57 268.25,743.10 269.14,751.63 273.33,760.16 274.09,768.69 268.25,785.76 268.25,802.82 267.49,819.89 267.75,836.95 270.54,854.01 274.09,871.08 276.38,888.14"/>
<polyline fill="none" stroke="#000" stroke-width="1.0" points="278.28,734.57 272.44,743.10 269.78,751.63 271.30,760.16 275.23,768.69 268.89,785.76 274.47,802.82 272.19,819.89 273.08,836.95 274.47,854.01 276.88,871.08 275.23,888.14"/>
<polyline fill="none" stroke="#000" stroke-width="1.0" points="359.76,734.57 342.50,743.10 394.79,751.63 405.58,760.16 378.04,768.69 364.46,785.76 320.29,802.82 334.25,819.89 327.78,836.95 345.93,854.01 370.93,871.08 396.19,888.14"/>
<path d="M274.47 730.97L278.07 734.57L274.47 738.17L270.87 734.57Z" fill="#fff" stroke="#000" stroke-width="1"/>
<path d="M268.25 739.50L271.85 743.10L268.25 746.70L264.65 743.10Z" fill="#fff" stroke="#000" stroke-width="1"/>
<path d="M269.14 748.03L272.74 751.63L269.14 755.23L265.54 751.63Z" fill="#fff" stroke="#000" stroke-width="1"/>
<path d="M273.33 756.56L276.93 760.16L273.33 763.76L269.73 760.16Z" fill="#fff" stroke="#000" stroke-width="1"/>
<path d="M274.09 765.09L277.69 768.69L274.09 772.29L270.49 768.69Z" fill="#fff" stroke="#000" stroke-width="1"/>
<path d="M268.25 782.16L271.85 785.76L268.25 789.36L264.65 785.76Z" fill="#fff" stroke="#000" stroke-width="1"/>
<path d="M268.25 799.22L271.85 802.82L268.25 806.42L264.65 802.82Z" fill="#fff" stroke="#000" stroke-width="1"/>
<path d="M267.49 816.29L271.09 819.89L267.49 823.49L263.89 819.89Z" fill="#fff" stroke="#000" stroke-width="1"/>
<path d="M267.75 833.35L271.35 836.95L267.75 840.55L264.15 836.95Z" fill="#fff" stroke="#000" stroke-width="1"/>
<path d="M270.54 850.41L274.14 854.01L270.54 857.61L266.94 854.01Z" fill="#fff" stroke="#000" stroke-width="1"/>
<path d="M274.09 867.48L277.69 871.08L274.09 874.68L270.49 871.08Z" fill="#fff" stroke="#000" stroke-width="1"/>
<path d="M276.38 884.54L279.98 888.14L276.38 891.74L272.78 888.14Z" fill="#fff" stroke="#000" stroke-width="1"/>
<circle cx="278.28" cy="734.57" r="3.20" fill="#808080" stroke="#000" stroke-width="1"/>
<circle cx="272.44" cy="743.10" r="3.20" fill="#808080" stroke="#000" stroke-width="1"/>
<circle cx="269.78" cy="751.63" r="3.20" fill="#808080" stroke="#000" stroke-width="1"/>
<circle cx="271.30" cy="760.16" r="3.20" fill="#808080" stroke="#000" stroke-width="1"/>
<circle cx="275.23" cy="768.69" r="3.20" fill="#808080" stroke="#000" stroke-width="1"/>
<circle cx="268.89" cy="785.76" r="3.20" fill="#808080" stroke="#000" stroke-width="1"/>
<circle cx="274.47" cy="802.82" r="3.20" fill="#808080" stroke="#000" stroke-width="1"/>
<circle cx="272.19" cy="819.89" r="3.20" fill="#808080" stroke="#000" stroke-width="1"/>
<circle cx="273.08" cy="836.95" r="3.20" fill="#808080" stroke="#000" stroke-width="1"/>
<circle cx="274.47" cy="854.01" r="3.20" fill="#808080" stroke="#000" stroke-width="1"/>
<circle cx="276.88" cy="871.08" r="3.20" fill="#808080" stroke="#000" stroke-width="1"/>
<circle cx="275.23" cy="888.14" r="3.20" fill="#808080" stroke="#000" stroke-width="1"/>
<line x1="358.49" y1="734.57" x2="361.03" y2="734.57" stroke="#000" stroke-width="1.0"/>
<line x1="358.49" y1="731.57" x2="358.49" y2="737.57" stroke="#000" stroke-width="1.0"/>
<line x1="361.03" y1="731.57" x2="361.03" y2="737.57" stroke="#000" stroke-width="1.0"/>
<line x1="356.76" y1="734.57" x2="362.76" y2="734.57" stroke="#000" stroke-width="0.9"/>
<line x1="356.76" y1="732.07" x2="356.76" y2="737.07" stroke="#000" stroke-width="0.9"/>
<line x1="362.76" y1="732.07" x2="362.76" y2="737.07" stroke="#000" stroke-width="0.9"/>
<line x1="359.76" y1="731.57" x2="359.76" y2="737.57" stroke="#000" stroke-width="0.9"/>
<line x1="357.26" y1="731.57" x2="362.26" y2="731.57" stroke="#000" stroke-width="0.9"/>
<line x1="357.26" y1="737.57" x2="362.26" y2="737.57" stroke="#000" stroke-width="0.9"/>
<path d="M359.76 730.47L363.86 734.57L359.76 738.67L355.66 734.57Z" fill="#000"/>
<line x1="341.23" y1="743.10" x2="343.77" y2="743.10" stroke="#000" stroke-width="1.0"/>
<line x1="341.23" y1="740.10" x2="341.23" y2="746.10" stroke="#000" stroke-width="1.0"/>
<line x1="343.77" y1="740.10" x2="343.77" y2="746.10" stroke="#000" stroke-width="1.0"/>
<line x1="339.50" y1="743.10" x2="345.50" y2="743.10" stroke="#000" stroke-width="0.9"/>
<line x1="339.50" y1="740.60" x2="339.50" y2="745.60" stroke="#000" stroke-width="0.9"/>
<line x1="345.50" y1="740.60" x2="345.50" y2="745.60" stroke="#000" stroke-width="0.9"/>
<line x1="342.50" y1="740.10" x2="342.50" y2="746.10" stroke="#000" stroke-width="0.9"/>
<line x1="340.00" y1="740.10" x2="345.00" y2="740.10" stroke="#000" stroke-width="0.9"/>
<line x1="340.00" y1="746.10" x2="345.00" y2="746.10" stroke="#000" stroke-width="0.9"/>
<path d="M342.50 739.00L346.60 743.10L342.50 747.20L338.40 743.10Z" fill="#000"/>
<line x1="390.98" y1="751.63" x2="398.60" y2="751.63" stroke="#000" stroke-width="1.0"/>
<line x1="390.98" y1="748.63" x2="390.98" y2="754.63" stroke="#000" stroke-width="1.0"/>
<line x1="398.60" y1="748.63" x2="398.60" y2="754.63" stroke="#000" stroke-width="1.0"/>
<line x1="391.79" y1="751.63" x2="397.79" y2="751.63" stroke="#000" stroke-width="0.9"/>
<line x1="391.79" y1="749.13" x2="391.79" y2="754.13" stroke="#000" stroke-width="0.9"/>
<line x1="397.79" y1="749.13" x2="397.79" y2="754.13" stroke="#000" stroke-width="0.9"/>
<line x1="394.79" y1="748.63" x2="394.79" y2="754.63" stroke="#000" stroke-width="0.9"/>
<line x1="392.29" y1="748.63" x2="397.29" y2="748.63" stroke="#000" stroke-width="0.9"/>
<line x1="392.29" y1="754.63" x2="397.29" y2="754.63" stroke="#000" stroke-width="0.9"/>
<path d="M394.79 747.53L398.89 751.63L394.79 755.73L390.69 751.63Z" fill="#000"/>
<line x1="401.52" y1="760.16" x2="409.64" y2="760.16" stroke="#000" stroke-width="1.0"/>
<line x1="401.52" y1="757.16" x2="401.52" y2="763.16" stroke="#000" stroke-width="1.0"/>
<line x1="409.64" y1="757.16" x2="409.64" y2="763.16" stroke="#000" stroke-width="1.0"/>
<line x1="402.58" y1="760.16" x2="408.58" y2="760.16" stroke="#000" stroke-width="0.9"/>
<line x1="402.58" y1="757.66" x2="402.58" y2="762.66" stroke="#000" stroke-width="0.9"/>
<line x1="408.58" y1="757.66" x2="408.58" y2="762.66" stroke="#000" stroke-width="0.9"/>
<line x1="405.58" y1="757.16" x2="405.58" y2="763.16" stroke="#000" stroke-width="0.9"/>
<line x1="403.08" y1="757.16" x2="408.08" y2="757.16" stroke="#000" stroke-width="0.9"/>
<line x1="403.08" y1="763.16" x2="408.08" y2="763.16" stroke="#000" stroke-width="0.9"/>
<path d="M405.58 756.06L409.68 760.16L405.58 764.26L401.48 760.16Z" fill="#000"/>
<line x1="376.13" y1="768.69" x2="379.94" y2="768.69" stroke="#000" stroke-width="1.0"/>
<line x1="376.13" y1="765.69" x2="376.13" y2="771.69" stroke="#000" stroke-width="1.0"/>
<line x1="379.94" y1="765.69" x2="379.94" y2="771.69" stroke="#000" stroke-width="1.0"/>
<line x1="375.04" y1="768.69" x2="381.04" y2="768.69" stroke="#000" stroke-width="0.9"/>
<line x1="375.04" y1="766.19" x2="375.04" y2="771.19" stroke="#000" stroke-width="0.9"/>
<line x1="381.04" y1="766.19" x2="381.04" y2="771.19" stroke="#000" stroke-width="0.9"/>
<line x1="378.04" y1="765.69" x2="378.04" y2="771.69" stroke="#000" stroke-width="0.9"/>
<line x1="375.54" y1="765.69" x2="380.54" y2="765.69" stroke="#000" stroke-width="0.9"/>
<line x1="375.54" y1="771.69" x2="380.54" y2="771.69" stroke="#000" stroke-width="0.9"/>
<path d="M378.04 764.59L382.14 768.69L378.04 772.79L373.94 768.69Z" fill="#000"/>
<line x1="362.55" y1="785.76" x2="366.36" y2="785.76" stroke="#000" stroke-width="1.0"/>
<line x1="362.55" y1="782.76" x2="362.55" y2="788.76" stroke="#000" stroke-width="1.0"/>
<line x1="366.36" y1="782.76" x2="366.36" y2="788.76" stroke="#000" stroke-width="1.0"/>
<line x1="361.46" y1="785.76" x2="367.46" y2="785.76" stroke="#000" stroke-width="0.9"/>
<line x1="361.46" y1="783.26" x2="361.46" y2="788.26" stroke="#000" stroke-width="0.9"/>
<line x1="367.46" y1="783.26" x2="367.46" y2="788.26" stroke="#000" stroke-width="0.9"/>
<line x1="364.46" y1="782.76" x2="364.46" y2="788.76" stroke="#000" stroke-width="0.9"/>
<line x1="361.96" y1="782.76" x2="366.96" y2="782.76" stroke="#000" stroke-width="0.9"/>
<line x1="361.96" y1="788.76" x2="366.96" y2="788.76" stroke="#000" stroke-width="0.9"/>
<path d="M364.46 781.66L368.56 785.76L364.46 789.86L360.36 785.76Z" fill="#000"/>
<line x1="319.02" y1="802.82" x2="321.56" y2="802.82" stroke="#000" stroke-width="1.0"/>
<line x1="319.02" y1="799.82" x2="319.02" y2="805.82" stroke="#000" stroke-width="1.0"/>
<line x1="321.56" y1="799.82" x2="321.56" y2="805.82" stroke="#000" stroke-width="1.0"/>
<line x1="317.29" y1="802.82" x2="323.29" y2="802.82" stroke="#000" stroke-width="0.9"/>
<line x1="317.29" y1="800.32" x2="317.29" y2="805.32" stroke="#000" stroke-width="0.9"/>
<line x1="323.29" y1="800.32" x2="323.29" y2="805.32" stroke="#000" stroke-width="0.9"/>
<line x1="320.29" y1="799.82" x2="320.29" y2="805.82" stroke="#000" stroke-width="0.9"/>
<line x1="317.79" y1="799.82" x2="322.79" y2="799.82" stroke="#000" stroke-width="0.9"/>
<line x1="317.79" y1="805.82" x2="322.79" y2="805.82" stroke="#000" stroke-width="0.9"/>
<path d="M320.29 798.72L324.39 802.82L320.29 806.92L316.19 802.82Z" fill="#000"/>
<line x1="332.98" y1="819.89" x2="335.52" y2="819.89" stroke="#000" stroke-width="1.0"/>
<line x1="332.98" y1="816.89" x2="332.98" y2="822.89" stroke="#000" stroke-width="1.0"/>
<line x1="335.52" y1="816.89" x2="335.52" y2="822.89" stroke="#000" stroke-width="1.0"/>
<line x1="331.25" y1="819.89" x2="337.25" y2="819.89" stroke="#000" stroke-width="0.9"/>
<line x1="331.25" y1="817.39" x2="331.25" y2="822.39" stroke="#000" stroke-width="0.9"/>
<line x1="337.25" y1="817.39" x2="337.25" y2="822.39" stroke="#000" stroke-width="0.9"/>
<line x1="334.25" y1="816.89" x2="334.25" y2="822.89" stroke="#000" stroke-width="0.9"/>
<line x1="331.75" y1="816.89" x2="336.75" y2="816.89" stroke="#000" stroke-width="0.9"/>
<line x1="331.75" y1="822.89" x2="336.75" y2="822.89" stroke="#000" stroke-width="0.9"/>
<path d="M334.25 815.79L338.35 819.89L334.25 823.99L330.15 819.89Z" fill="#000"/>
<line x1="326.51" y1="836.95" x2="329.05" y2="836.95" stroke="#000" stroke-width="1.0"/>
<line x1="326.51" y1="833.95" x2="326.51" y2="839.95" stroke="#000" stroke-width="1.0"/>
<line x1="329.05" y1="833.95" x2="329.05" y2="839.95" stroke="#000" stroke-width="1.0"/>
<line x1="324.78" y1="836.95" x2="330.78" y2="836.95" stroke="#000" stroke-width="0.9"/>
<line x1="324.78" y1="834.45" x2="324.78" y2="839.45" stroke="#000" stroke-width="0.9"/>
<line x1="330.78" y1="834.45" x2="330.78" y2="839.45" stroke="#000" stroke-width="0.9"/>
<line x1="327.78" y1="833.95" x2="327.78" y2="839.95" stroke="#000" stroke-width="0.9"/>
<line x1="325.28" y1="833.95" x2="330.28" y2="833.95" stroke="#000" stroke-width="0.9"/>
<line x1="325.28" y1="839.95" x2="330.28" y2="839.95" stroke="#000" stroke-width="0.9"/>
<path d="M327.78 832.85L331.88 836.95L327.78 841.05L323.68 836.95Z" fill="#000"/>
<line x1="344.02" y1="854.01" x2="347.83" y2="854.01" stroke="#000" stroke-width="1.0"/>
<line x1="344.02" y1="851.01" x2="344.02" y2="857.01" stroke="#000" stroke-width="1.0"/>
<line x1="347.83" y1="851.01" x2="347.83" y2="857.01" stroke="#000" stroke-width="1.0"/>
<line x1="342.93" y1="854.01" x2="348.93" y2="854.01" stroke="#000" stroke-width="0.9"/>
<line x1="342.93" y1="851.51" x2="342.93" y2="856.51" stroke="#000" stroke-width="0.9"/>
<line x1="348.93" y1="851.51" x2="348.93" y2="856.51" stroke="#000" stroke-width="0.9"/>
<line x1="345.93" y1="851.01" x2="345.93" y2="857.01" stroke="#000" stroke-width="0.9"/>
<line x1="343.43" y1="851.01" x2="348.43" y2="851.01" stroke="#000" stroke-width="0.9"/>
<line x1="343.43" y1="857.01" x2="348.43" y2="857.01" stroke="#000" stroke-width="0.9"/>
<path d="M345.93 849.91L350.03 854.01L345.93 858.11L341.83 854.01Z" fill="#000"/>
<line x1="368.39" y1="871.08" x2="373.47" y2="871.08" stroke="#000" stroke-width="1.0"/>
<line x1="368.39" y1="868.08" x2="368.39" y2="874.08" stroke="#000" stroke-width="1.0"/>
<line x1="373.47" y1="868.08" x2="373.47" y2="874.08" stroke="#000" stroke-width="1.0"/>
<line x1="367.93" y1="871.08" x2="373.93" y2="871.08" stroke="#000" stroke-width="0.9"/>
<line x1="367.93" y1="868.58" x2="367.93" y2="873.58" stroke="#000" stroke-width="0.9"/>
<line x1="373.93" y1="868.58" x2="373.93" y2="873.58" stroke="#000" stroke-width="0.9"/>
<line x1="370.93" y1="868.08" x2="370.93" y2="874.08" stroke="#000" stroke-width="0.9"/>
<line x1="368.43" y1="868.08" x2="373.43" y2="868.08" stroke="#000" stroke-width="0.9"/>
<line x1="368.43" y1="874.08" x2="373.43" y2="874.08" stroke="#000" stroke-width="0.9"/>
<path d="M370.93 866.98L375.03 871.08L370.93 875.18L366.83 871.08Z" fill="#000"/>
<line x1="392.38" y1="888.14" x2="399.99" y2="888.14" stroke="#000" stroke-width="1.0"/>
<line x1="392.38" y1="885.14" x2="392.38" y2="891.14" stroke="#000" stroke-width="1.0"/>
<line x1="399.99" y1="885.14" x2="399.99" y2="891.14" stroke="#000" stroke-width="1.0"/>
<line x1="393.19" y1="888.14" x2="399.19" y2="888.14" stroke="#000" stroke-width="0.9"/>
<line x1="393.19" y1="885.64" x2="393.19" y2="890.64" stroke="#000" stroke-width="0.9"/>
<line x1="399.19" y1="885.64" x2="399.19" y2="890.64" stroke="#000" stroke-width="0.9"/>
<line x1="396.19" y1="885.14" x2="396.19" y2="891.14" stroke="#000" stroke-width="0.9"/>
<line x1="393.69" y1="885.14" x2="398.69" y2="885.14" stroke="#000" stroke-width="0.9"/>
<line x1="393.69" y1="891.14" x2="398.69" y2="891.14" stroke="#000" stroke-width="0.9"/>
<path d="M396.19 884.04L400.29 888.14L396.19 892.24L392.09 888.14Z" fill="#000"/>
<path d="M267.40 690.70L271.20 694.50L267.40 698.30L263.60 694.50Z" fill="#fff" stroke="#000" stroke-width="1"/>
<text x="275.00" y="698.60" text-anchor="start" font-size="12.4" letter-spacing="0.28" xml:space="preserve"><tspan font-size="12.4">Mn</tspan><tspan font-size="8.0" dy="3.30">T</tspan><tspan font-size="12.4" dy="-3.30"> (mmol/g),</tspan></text>
<circle cx="364.20" cy="694.50" r="3.40" fill="#808080" stroke="#000" stroke-width="1"/>
<text x="372.80" y="698.60" text-anchor="start" font-size="12.4" letter-spacing="0.28" xml:space="preserve"><tspan font-size="12.4">Mn</tspan><tspan font-size="8.0" dy="3.30">T</tspan><tspan font-size="12.4" dy="-3.30">/Fe</tspan><tspan font-size="8.0" dy="3.30">T</tspan></text>
<path d="M296.60 972.60L300.90 976.90L296.60 981.20L292.30 976.90Z" fill="#000"/>
<text x="303.90" y="981.00" text-anchor="start" font-size="12.4" letter-spacing="0.28" xml:space="preserve"><tspan font-size="12.4">Fe</tspan><tspan font-size="8.0" dy="3.30">T</tspan><tspan font-size="12.4" dy="-3.30"> (mmol/g)</tspan></text>
<text x="404.65" y="930.70" text-anchor="end" font-size="16.3" font-weight="bold">b</text>
<path d="M477.90 730.30H481.90M633.20 730.30H637.20M479.10 738.75H481.90M633.20 738.75H636.00M479.10 747.20H481.90M633.20 747.20H636.00M479.10 755.64H481.90M633.20 755.64H636.00M479.10 764.09H481.90M633.20 764.09H636.00M477.90 772.54H481.90M633.20 772.54H637.20M479.10 780.99H481.90M633.20 780.99H636.00M479.10 789.44H481.90M633.20 789.44H636.00M479.10 797.88H481.90M633.20 797.88H636.00M479.10 806.33H481.90M633.20 806.33H636.00M477.90 814.78H481.90M633.20 814.78H637.20M479.10 823.23H481.90M633.20 823.23H636.00M479.10 831.68H481.90M633.20 831.68H636.00M479.10 840.12H481.90M633.20 840.12H636.00M479.10 848.57H481.90M633.20 848.57H636.00M477.90 857.02H481.90M633.20 857.02H637.20M479.10 865.47H481.90M633.20 865.47H636.00M479.10 873.92H481.90M633.20 873.92H636.00M479.10 882.36H481.90M633.20 882.36H636.00M479.10 890.81H481.90M633.20 890.81H636.00M477.90 899.26H481.90M633.20 899.26H637.20M479.10 907.71H481.90M633.20 907.71H636.00M479.10 916.16H481.90M633.20 916.16H636.00M479.10 924.60H481.90M633.20 924.60H636.00M479.10 933.05H481.90M633.20 933.05H636.00M477.90 941.50H481.90M633.20 941.50H637.20M481.90 726.30V730.30M491.99 727.50V730.30M502.07 727.50V730.30M512.16 727.50V730.30M522.25 727.50V730.30M532.33 726.30V730.30M542.42 727.50V730.30M552.51 727.50V730.30M562.59 727.50V730.30M572.68 727.50V730.30M582.77 726.30V730.30M592.85 727.50V730.30M602.94 727.50V730.30M613.03 727.50V730.30M623.11 727.50V730.30M633.20 726.30V730.30M481.90 941.50V945.50M491.99 941.50V944.30M502.07 941.50V944.30M512.16 941.50V944.30M522.25 941.50V944.30M532.33 941.50V945.50M542.42 941.50V944.30M552.51 941.50V944.30M562.59 941.50V944.30M572.68 941.50V944.30M582.77 941.50V945.50M592.85 941.50V944.30M602.94 941.50V944.30M613.03 941.50V944.30M623.11 941.50V944.30M633.20 941.50V945.50" stroke="#000" stroke-width="1" fill="none"/>
<line x1="481.90" y1="729.80" x2="481.90" y2="942.00" stroke="#000" stroke-width="1.0"/>
<line x1="633.20" y1="729.80" x2="633.20" y2="942.00" stroke="#000" stroke-width="1.0"/>
<line x1="481.90" y1="730.30" x2="633.20" y2="730.30" stroke="#000" stroke-width="1.0"/>
<line x1="481.90" y1="941.50" x2="633.20" y2="941.50" stroke="#000" stroke-width="1.0"/>
<text x="480.30" y="719.00" text-anchor="middle" font-size="12.4" font-weight="normal">-2.5</text>
<text x="530.73" y="719.00" text-anchor="middle" font-size="12.4" font-weight="normal">-1.5</text>
<text x="581.17" y="719.00" text-anchor="middle" font-size="12.4" font-weight="normal">-0.5</text>
<text x="631.60" y="719.00" text-anchor="middle" font-size="12.4" font-weight="normal">0.5</text>
<text x="480.30" y="961.20" text-anchor="middle" font-size="12.4" font-weight="normal">-2.5</text>
<text x="530.73" y="961.20" text-anchor="middle" font-size="12.4" font-weight="normal">-1.5</text>
<text x="581.17" y="961.20" text-anchor="middle" font-size="12.4" font-weight="normal">-0.5</text>
<text x="631.60" y="961.20" text-anchor="middle" font-size="12.4" font-weight="normal">0.5</text>
<text x="467.40" y="734.10" text-anchor="end" font-size="12.4" font-weight="normal">0</text>
<text x="643.90" y="734.10" text-anchor="start" font-size="12.4" font-weight="normal">0</text>
<text x="467.40" y="776.34" text-anchor="end" font-size="12.4" font-weight="normal">5</text>
<text x="643.90" y="776.34" text-anchor="start" font-size="12.4" font-weight="normal">5</text>
<text x="467.40" y="818.58" text-anchor="end" font-size="12.4" font-weight="normal">10</text>
<text x="643.90" y="818.58" text-anchor="start" font-size="12.4" font-weight="normal">10</text>
<text x="467.40" y="860.82" text-anchor="end" font-size="12.4" font-weight="normal">15</text>
<text x="643.90" y="860.82" text-anchor="start" font-size="12.4" font-weight="normal">15</text>
<text x="467.40" y="903.06" text-anchor="end" font-size="12.4" font-weight="normal">20</text>
<text x="643.90" y="903.06" text-anchor="start" font-size="12.4" font-weight="normal">20</text>
<text x="467.40" y="945.30" text-anchor="end" font-size="12.4" font-weight="normal">25</text>
<text x="643.90" y="945.30" text-anchor="start" font-size="12.4" font-weight="normal">25</text>
<polyline fill="none" stroke="#000" stroke-width="1.0" points="609.45,734.52 607.13,742.97 606.47,751.42 607.83,759.87 607.83,768.32"/>
<polyline fill="none" stroke="#999" stroke-width="1.3" points="607.83,768.32 607.83,810.56"/>
<polyline fill="none" stroke="#222" stroke-width="1.0" points="607.83,810.56 607.13,844.35"/>
<polyline fill="none" stroke="#000" stroke-width="1.0" points="530.87,734.52 559.32,742.97 570.51,751.42 563.96,759.87 547.67,768.32 539.49,810.56 507.32,844.35"/>
<line x1="602.23" y1="734.52" x2="616.66" y2="734.52" stroke="#222" stroke-width="1.0"/>
<line x1="602.23" y1="731.52" x2="602.23" y2="737.52" stroke="#222" stroke-width="1.0"/>
<line x1="616.66" y1="731.52" x2="616.66" y2="737.52" stroke="#222" stroke-width="1.0"/>
<path d="M609.45 730.62L613.35 734.52L609.45 738.42L605.55 734.52Z" fill="#fff" stroke="#000" stroke-width="1"/>
<line x1="599.91" y1="742.97" x2="614.34" y2="742.97" stroke="#222" stroke-width="1.0"/>
<line x1="599.91" y1="739.97" x2="599.91" y2="745.97" stroke="#222" stroke-width="1.0"/>
<line x1="614.34" y1="739.97" x2="614.34" y2="745.97" stroke="#222" stroke-width="1.0"/>
<path d="M607.13 739.07L611.03 742.97L607.13 746.87L603.23 742.97Z" fill="#fff" stroke="#000" stroke-width="1"/>
<line x1="599.26" y1="751.42" x2="613.68" y2="751.42" stroke="#222" stroke-width="1.0"/>
<line x1="599.26" y1="748.42" x2="599.26" y2="754.42" stroke="#222" stroke-width="1.0"/>
<line x1="613.68" y1="748.42" x2="613.68" y2="754.42" stroke="#222" stroke-width="1.0"/>
<path d="M606.47 747.52L610.37 751.42L606.47 755.32L602.57 751.42Z" fill="#fff" stroke="#000" stroke-width="1"/>
<line x1="600.62" y1="759.87" x2="615.04" y2="759.87" stroke="#222" stroke-width="1.0"/>
<line x1="600.62" y1="756.87" x2="600.62" y2="762.87" stroke="#222" stroke-width="1.0"/>
<line x1="615.04" y1="756.87" x2="615.04" y2="762.87" stroke="#222" stroke-width="1.0"/>
<path d="M607.83 755.97L611.73 759.87L607.83 763.77L603.93 759.87Z" fill="#fff" stroke="#000" stroke-width="1"/>
<line x1="600.62" y1="768.32" x2="615.04" y2="768.32" stroke="#222" stroke-width="1.0"/>
<line x1="600.62" y1="765.32" x2="600.62" y2="771.32" stroke="#222" stroke-width="1.0"/>
<line x1="615.04" y1="765.32" x2="615.04" y2="771.32" stroke="#222" stroke-width="1.0"/>
<path d="M607.83 764.42L611.73 768.32L607.83 772.22L603.93 768.32Z" fill="#fff" stroke="#000" stroke-width="1"/>
<line x1="600.62" y1="810.56" x2="615.04" y2="810.56" stroke="#222" stroke-width="1.0"/>
<line x1="600.62" y1="807.56" x2="600.62" y2="813.56" stroke="#222" stroke-width="1.0"/>
<line x1="615.04" y1="807.56" x2="615.04" y2="813.56" stroke="#222" stroke-width="1.0"/>
<path d="M607.83 806.66L611.73 810.56L607.83 814.46L603.93 810.56Z" fill="#fff" stroke="#000" stroke-width="1"/>
<line x1="599.91" y1="844.35" x2="614.34" y2="844.35" stroke="#222" stroke-width="1.0"/>
<line x1="599.91" y1="841.35" x2="599.91" y2="847.35" stroke="#222" stroke-width="1.0"/>
<line x1="614.34" y1="841.35" x2="614.34" y2="847.35" stroke="#222" stroke-width="1.0"/>
<path d="M607.13 840.45L611.03 844.35L607.13 848.25L603.23 844.35Z" fill="#fff" stroke="#000" stroke-width="1"/>
<line x1="525.83" y1="734.52" x2="535.91" y2="734.52" stroke="#999" stroke-width="1.0"/>
<line x1="525.83" y1="731.52" x2="525.83" y2="737.52" stroke="#999" stroke-width="1.0"/>
<line x1="535.91" y1="731.52" x2="535.91" y2="737.52" stroke="#999" stroke-width="1.0"/>
<path d="M530.87 730.42L534.97 734.52L530.87 738.62L526.77 734.52Z" fill="#000"/>
<line x1="554.27" y1="742.97" x2="564.36" y2="742.97" stroke="#999" stroke-width="1.0"/>
<line x1="554.27" y1="739.97" x2="554.27" y2="745.97" stroke="#999" stroke-width="1.0"/>
<line x1="564.36" y1="739.97" x2="564.36" y2="745.97" stroke="#999" stroke-width="1.0"/>
<path d="M559.32 738.87L563.42 742.97L559.32 747.07L555.22 742.97Z" fill="#000"/>
<line x1="565.47" y1="751.42" x2="575.55" y2="751.42" stroke="#999" stroke-width="1.0"/>
<line x1="565.47" y1="748.42" x2="565.47" y2="754.42" stroke="#999" stroke-width="1.0"/>
<line x1="575.55" y1="748.42" x2="575.55" y2="754.42" stroke="#999" stroke-width="1.0"/>
<path d="M570.51 747.32L574.61 751.42L570.51 755.52L566.41 751.42Z" fill="#000"/>
<line x1="558.91" y1="759.87" x2="569.00" y2="759.87" stroke="#999" stroke-width="1.0"/>
<line x1="558.91" y1="756.87" x2="558.91" y2="762.87" stroke="#999" stroke-width="1.0"/>
<line x1="569.00" y1="756.87" x2="569.00" y2="762.87" stroke="#999" stroke-width="1.0"/>
<path d="M563.96 755.77L568.06 759.87L563.96 763.97L559.86 759.87Z" fill="#000"/>
<line x1="542.62" y1="768.32" x2="552.71" y2="768.32" stroke="#999" stroke-width="1.0"/>
<line x1="542.62" y1="765.32" x2="542.62" y2="771.32" stroke="#999" stroke-width="1.0"/>
<line x1="552.71" y1="765.32" x2="552.71" y2="771.32" stroke="#999" stroke-width="1.0"/>
<path d="M547.67 764.22L551.77 768.32L547.67 772.42L543.57 768.32Z" fill="#000"/>
<line x1="534.45" y1="810.56" x2="544.54" y2="810.56" stroke="#999" stroke-width="1.0"/>
<line x1="534.45" y1="807.56" x2="534.45" y2="813.56" stroke="#999" stroke-width="1.0"/>
<line x1="544.54" y1="807.56" x2="544.54" y2="813.56" stroke="#999" stroke-width="1.0"/>
<path d="M539.49 806.46L543.59 810.56L539.49 814.66L535.39 810.56Z" fill="#000"/>
<line x1="502.28" y1="844.35" x2="512.36" y2="844.35" stroke="#999" stroke-width="1.0"/>
<line x1="502.28" y1="841.35" x2="502.28" y2="847.35" stroke="#999" stroke-width="1.0"/>
<line x1="512.36" y1="841.35" x2="512.36" y2="847.35" stroke="#999" stroke-width="1.0"/>
<path d="M507.32 840.25L511.42 844.35L507.32 848.45L503.22 844.35Z" fill="#000"/>
<path d="M522.00 692.00L526.30 696.30L522.00 700.60L517.70 696.30Z" fill="#000"/>
<text x="529.50" y="700.70" text-anchor="start" font-size="12.4" letter-spacing="0.28" xml:space="preserve"><tspan font-size="12.4">δ'</tspan><tspan font-size="8.0" dy="-4.00">56</tspan><tspan font-size="12.4" dy="4.00">Fe</tspan><tspan font-size="8.0" dy="3.30">d</tspan><tspan font-size="12.4" dy="-3.30"> (‰)</tspan></text>
<path d="M515.30 973.10L519.10 976.90L515.30 980.70L511.50 976.90Z" fill="#fff" stroke="#000" stroke-width="1"/>
<text x="524.80" y="980.40" text-anchor="start" font-size="12.4" letter-spacing="0.28" xml:space="preserve"><tspan font-size="12.4"><tspan font-family="Liberation Serif" stroke-width="0">Δ</tspan>'</tspan><tspan font-size="8.0" dy="-4.00">57</tspan><tspan font-size="12.4" dy="4.00">Fe</tspan><tspan font-size="8.0" dy="3.30">d</tspan><tspan font-size="12.4" dy="-3.30"> (‰)</tspan></text>
<text transform="translate(677.40,837.40) rotate(-90)" text-anchor="middle" font-size="12.4" letter-spacing="0.28">Depth (cm)</text>
<text x="622.55" y="930.40" text-anchor="end" font-size="16.3" font-weight="bold">c</text>
</svg></body></html>
